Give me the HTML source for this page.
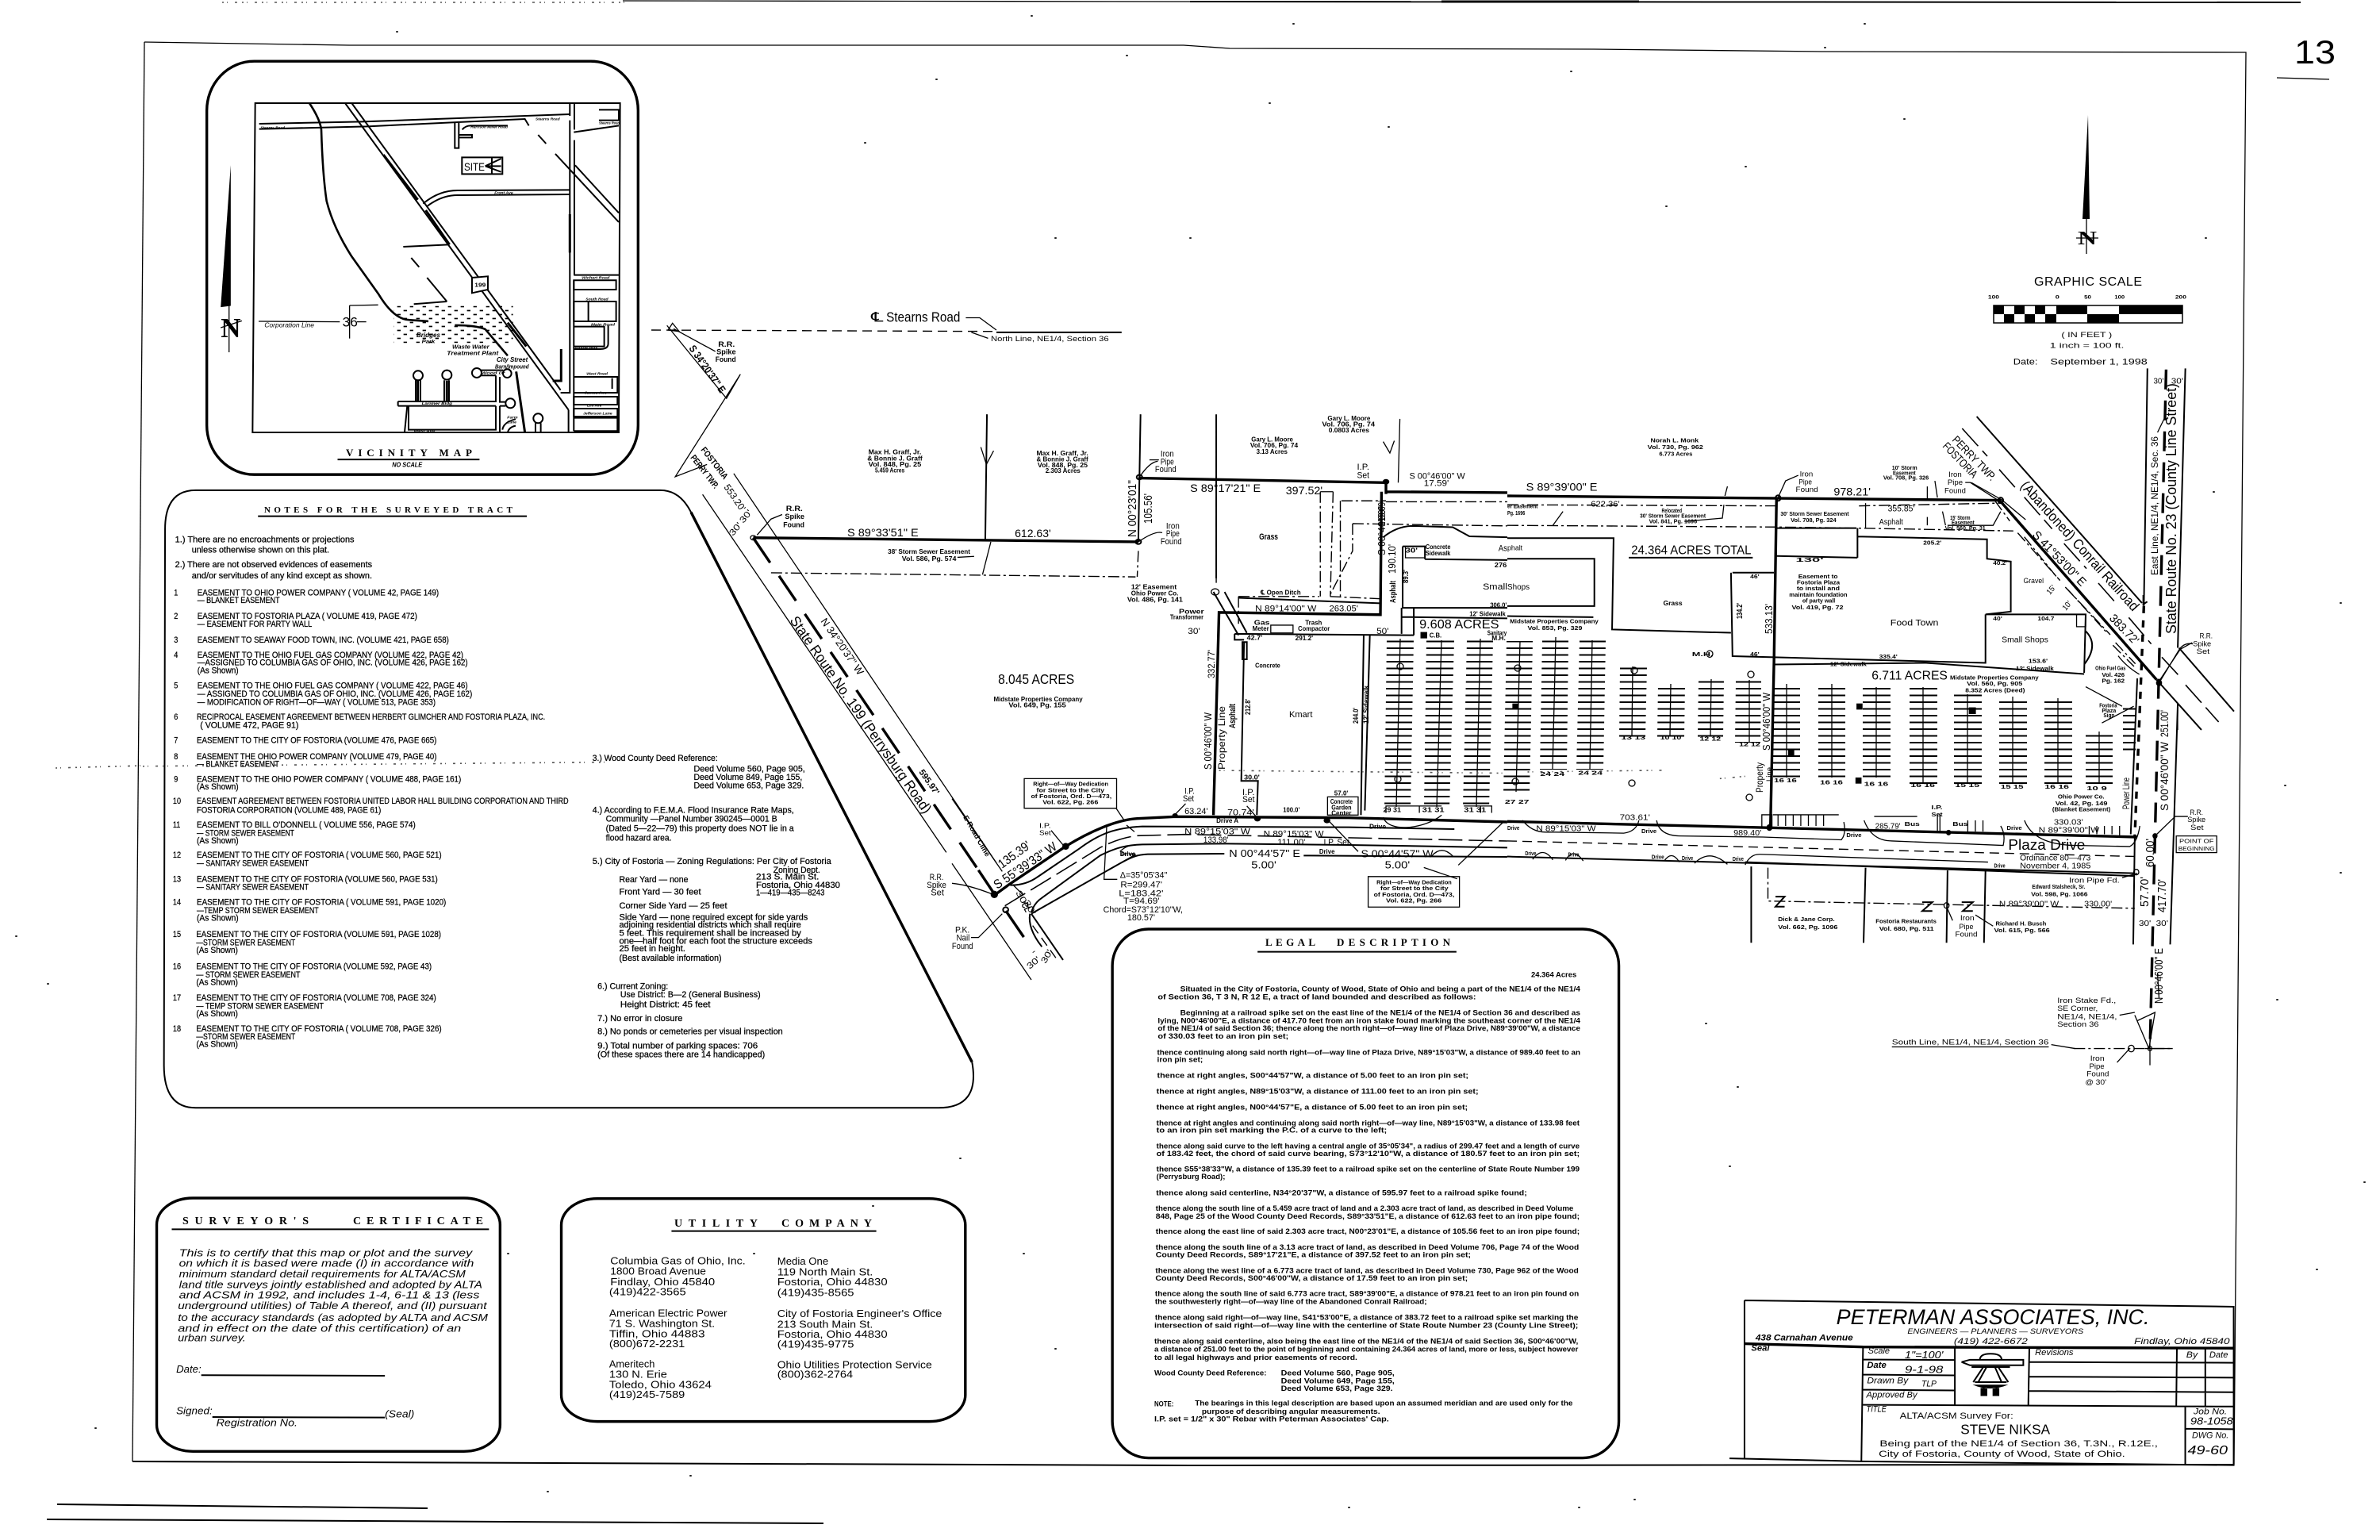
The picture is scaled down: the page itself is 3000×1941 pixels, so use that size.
<!DOCTYPE html>
<html><head><meta charset="utf-8"><title>ALTA/ACSM Survey</title>
<style>
html,body{margin:0;padding:0;background:#fff}
svg{display:block}
text{font-family:"Liberation Sans",sans-serif;fill:#000}
line,path,rect,polyline,polygon,circle,ellipse{vector-effect:non-scaling-stroke}
.l{fill:none;stroke:#000;stroke-width:1.3}
.m{fill:none;stroke:#000;stroke-width:2}
.h{fill:none;stroke:#000;stroke-width:3.4}
.dd{fill:none;stroke:#000;stroke-width:1.4;stroke-dasharray:14 4 3 4}
.ds{fill:none;stroke:#000;stroke-width:1.4;stroke-dasharray:12 7}
.ld{fill:none;stroke:#000;stroke-width:1.6;stroke-dasharray:30 8}
.b{font-weight:bold}
.i{font-style:italic}
.s{font-family:"Liberation Serif",serif;font-weight:bold}
.noise{fill:none;stroke:#555;stroke-width:1.6;stroke-dasharray:2 4 1 9 3 6}
.dots{fill:none;stroke:#222;stroke-width:2;stroke-linecap:round}
</style></head><body>
<svg xmlns="http://www.w3.org/2000/svg" width="3000" height="1941" viewBox="0 0 3000 1941">
<defs>
<pattern id="hatch" patternUnits="userSpaceOnUse" width="40" height="8.5"><rect width="40" height="8.5" fill="#fff"/><rect y="0" width="40" height="2" fill="#000"/></pattern>
<pattern id="stip" patternUnits="userSpaceOnUse" width="48" height="30"><rect x="2" y="2" width="13" height="5" fill="#000"/><rect x="26" y="17" width="13" height="5" fill="#000"/></pattern>
</defs>
<rect width="3000" height="1941" fill="#fff"/>

<!-- frame -->
<path class="l" d="M182 53L440 57L1492 57L1550 61L2009 62L2296 65L2831 66L2816 1846"/>
<path class="l" d="M182 53L167 1842"/>
<path class="m" d="M167 1842L1500 1847L2816 1846"/>
<path class="l" d="M785 1L1500 2"/><path class="m" d="M1500 2L2900 3"/>
<path style="fill:none;stroke:#000;stroke-width:3" d="M1817 2H2066"/>
<path class="noise" d="M280 3L790 3"/>
<path class="m" d="M72 1896L539 1901M59 1915L1038 1920"/>
<path class="l" d="M2870 98L2936 100"/>
<text x="2892" y="80" font-size="42" textLength="52" lengthAdjust="spacingAndGlyphs">13</text>

<!-- north arrow + scale -->
<path d="M2632 145L2625 276L2634 276Z" fill="#000"/>
<path class="l" d="M2630 276L2630 320M2617 300L2645 300"/>
<text x="2619" y="308" font-size="24" class="s" textLength="24" lengthAdjust="spacingAndGlyphs">N</text>
<text x="2564" y="360" font-size="16" textLength="136" lengthAdjust="spacing">GRAPHIC SCALE</text>
<g fill="#000">
<rect x="2513" y="385" width="238" height="22" fill="#fff" stroke="#000" stroke-width="1.5"/>
<rect x="2513" y="385" width="13" height="11"/><rect x="2539" y="385" width="13" height="11"/><rect x="2565" y="385" width="13" height="11"/><rect x="2592" y="385" width="39" height="11"/>
<rect x="2526" y="396" width="13" height="11"/><rect x="2552" y="396" width="13" height="11"/><rect x="2578" y="396" width="14" height="11"/><rect x="2631" y="396" width="40" height="11"/><rect x="2671" y="385" width="80" height="11"/>
</g>

<!-- Z1: vicinity frame + notes -->
<g transform="translate(180 60) scale(.7015 .861)">
<rect class="h" x="115" y="20" width="775" height="605" rx="85" ry="72" fill="#fff"/>
<path d="M158 172L140 380L158 378Z" fill="#000"/>
<path class="l" d="M155 378L155 446M140 410L178 400"/>
<text x="140" y="424" font-size="40" class="s" textLength="36" lengthAdjust="spacingAndGlyphs">N</text>
<path class="m" d="M350 603L605 603"/>
<text x="448" y="614" font-size="10" class="b i" textLength="54" lengthAdjust="spacingAndGlyphs">NO SCALE</text>

<path class="m" d="M40 705Q40 648 95 648L930 648Q965 648 985 680"/>
<path class="h" d="M985 680L1490 1485"/>
<path class="m" d="M1490 1485Q1505 1552 1430 1552L95 1552Q38 1552 38 1490L40 705"/>
<path class="m" d="M207 686L690 686"/>
<g font-size="13" style="stroke:#000;stroke-width:.3">
<text x="58" y="724" textLength="322" lengthAdjust="spacingAndGlyphs">1.) There are no encroachments or projections</text>
<text x="88" y="739" textLength="247" lengthAdjust="spacingAndGlyphs">unless otherwise shown on this plat.</text>
<text x="58" y="761" textLength="354" lengthAdjust="spacingAndGlyphs">2.) There are not observed evidences of easements</text>
<text x="88" y="777" textLength="324" lengthAdjust="spacingAndGlyphs">and/or servitudes of any kind except as shown.</text>
<text x="56" y="802">1</text><text x="56" y="836">2</text><text x="56" y="871">3</text><text x="56" y="893">4</text><text x="56" y="938">5</text><text x="56" y="984">6</text><text x="56" y="1018">7</text><text x="56" y="1042">8</text><text x="56" y="1075">9</text><text x="54" y="1107">10</text><text x="54" y="1142">11</text><text x="54" y="1186">12</text><text x="54" y="1221">13</text><text x="54" y="1255">14</text><text x="54" y="1302">15</text><text x="54" y="1349">16</text><text x="54" y="1395">17</text><text x="54" y="1440">18</text>
<text x="98" y="802" textLength="434" lengthAdjust="spacingAndGlyphs">EASEMENT TO OHIO POWER COMPANY ( VOLUME 42, PAGE 149)</text>
<text x="98" y="813" textLength="148" lengthAdjust="spacingAndGlyphs">— BLANKET EASEMENT</text>
<text x="98" y="836" textLength="395" lengthAdjust="spacingAndGlyphs">EASEMENT TO FOSTORIA PLAZA ( VOLUME 419, PAGE 472)</text>
<text x="98" y="848" textLength="206" lengthAdjust="spacingAndGlyphs">— EASEMENT FOR PARTY WALL</text>
<text x="98" y="871" textLength="452" lengthAdjust="spacingAndGlyphs">EASEMENT TO SEAWAY FOOD TOWN, INC. (VOLUME 421, PAGE 658)</text>
<text x="98" y="893" textLength="478" lengthAdjust="spacingAndGlyphs">EASEMENT TO THE OHIO FUEL GAS COMPANY (VOLUME 422, PAGE 42)</text>
<text x="98" y="904" textLength="486" lengthAdjust="spacingAndGlyphs">—ASSIGNED TO COLUMBIA GAS OF OHIO, INC. (VOLUME 426, PAGE 162)</text>
<text x="98" y="916" textLength="74" lengthAdjust="spacingAndGlyphs">(As Shown)</text>
<text x="98" y="938" textLength="486" lengthAdjust="spacingAndGlyphs">EASEMENT TO THE OHIO FUEL GAS COMPANY ( VOLUME 422, PAGE 46)</text>
<text x="98" y="950" textLength="494" lengthAdjust="spacingAndGlyphs">— ASSIGNED TO COLUMBIA GAS OF OHIO, INC. (VOLUME 426, PAGE 162)</text>
<text x="98" y="962" textLength="428" lengthAdjust="spacingAndGlyphs">— MODIFICATION OF RIGHT—OF—WAY ( VOLUME 513, PAGE 353)</text>
<text x="97" y="984" textLength="626" lengthAdjust="spacingAndGlyphs">RECIPROCAL EASEMENT AGREEMENT BETWEEN HERBERT GLIMCHER AND FOSTORIA PLAZA, INC.</text>
<text x="103" y="996" textLength="177" lengthAdjust="spacingAndGlyphs">( VOLUME 472, PAGE 91)</text>
<text x="97" y="1018" textLength="431" lengthAdjust="spacingAndGlyphs">EASEMENT TO THE CITY OF FOSTORIA (VOLUME 476, PAGE 665)</text>
<text x="97" y="1042" textLength="431" lengthAdjust="spacingAndGlyphs">EASEMENT THE OHIO POWER COMPANY (VOLUME 479, PAGE 40)</text>
<text x="97" y="1053" textLength="148" lengthAdjust="spacingAndGlyphs">— BLANKET EASEMENT</text>
<text x="97" y="1075" textLength="475" lengthAdjust="spacingAndGlyphs">EASEMENT TO THE OHIO POWER COMPANY ( VOLUME 488, PAGE 161)</text>
<text x="97" y="1086" textLength="75" lengthAdjust="spacingAndGlyphs">(As Shown)</text>
<text x="97" y="1107" textLength="668" lengthAdjust="spacingAndGlyphs">EASEMENT AGREEMENT BETWEEN FOSTORIA UNITED LABOR HALL BUILDING CORPORATION AND THIRD</text>
<text x="97" y="1120" textLength="331" lengthAdjust="spacingAndGlyphs">FOSTORIA CORPORATION (VOLUME 489, PAGE 61)</text>
<text x="97" y="1142" textLength="393" lengthAdjust="spacingAndGlyphs">EASEMENT TO BILL O'DONNELL ( VOLUME 556, PAGE 574)</text>
<text x="97" y="1154" textLength="175" lengthAdjust="spacingAndGlyphs">— STORM SEWER EASEMENT</text>
<text x="97" y="1165" textLength="75" lengthAdjust="spacingAndGlyphs">(As Shown)</text>
<text x="97" y="1186" textLength="440" lengthAdjust="spacingAndGlyphs">EASEMENT TO THE CITY OF FOSTORIA ( VOLUME 560, PAGE 521)</text>
<text x="97" y="1198" textLength="201" lengthAdjust="spacingAndGlyphs">— SANITARY SEWER EASEMENT</text>
<text x="97" y="1221" textLength="433" lengthAdjust="spacingAndGlyphs">EASEMENT TO THE CITY OF FOSTORIA (VOLUME 560, PAGE 531)</text>
<text x="97" y="1233" textLength="201" lengthAdjust="spacingAndGlyphs">— SANITARY SEWER EASEMENT</text>
<text x="97" y="1255" textLength="448" lengthAdjust="spacingAndGlyphs">EASEMENT TO THE CITY OF FOSTORIA ( VOLUME 591, PAGE 1020)</text>
<text x="97" y="1267" textLength="219" lengthAdjust="spacingAndGlyphs">—TEMP STORM SEWER EASEMENT</text>
<text x="97" y="1278" textLength="75" lengthAdjust="spacingAndGlyphs">(As Shown)</text>
<text x="96" y="1302" textLength="440" lengthAdjust="spacingAndGlyphs">EASEMENT TO THE CITY OF FOSTORIA (VOLUME 591, PAGE 1028)</text>
<text x="96" y="1314" textLength="178" lengthAdjust="spacingAndGlyphs">—STORM SEWER EASEMENT</text>
<text x="96" y="1325" textLength="75" lengthAdjust="spacingAndGlyphs">(As Shown)</text>
<text x="96" y="1349" textLength="423" lengthAdjust="spacingAndGlyphs">EASEMENT TO THE CITY OF FOSTORIA (VOLUME 592, PAGE 43)</text>
<text x="96" y="1361" textLength="187" lengthAdjust="spacingAndGlyphs">— STORM SEWER EASEMENT</text>
<text x="96" y="1372" textLength="75" lengthAdjust="spacingAndGlyphs">(As Shown)</text>
<text x="96" y="1395" textLength="431" lengthAdjust="spacingAndGlyphs">EASEMENT TO THE CITY OF FOSTORIA (VOLUME 708, PAGE 324)</text>
<text x="96" y="1407" textLength="229" lengthAdjust="spacingAndGlyphs">— TEMP STORM SEWER EASEMENT</text>
<text x="96" y="1418" textLength="75" lengthAdjust="spacingAndGlyphs">(As Shown)</text>
<text x="96" y="1440" textLength="441" lengthAdjust="spacingAndGlyphs">EASEMENT TO THE CITY OF FOSTORIA ( VOLUME 708, PAGE 326)</text>
<text x="96" y="1452" textLength="178" lengthAdjust="spacingAndGlyphs">—STORM SEWER EASEMENT</text>
<text x="96" y="1463" textLength="75" lengthAdjust="spacingAndGlyphs">(As Shown)</text>

<text x="808" y="1044" textLength="225" lengthAdjust="spacingAndGlyphs">3.) Wood County Deed Reference:</text>
<text x="990" y="1060" textLength="200" lengthAdjust="spacingAndGlyphs">Deed Volume 560, Page 905,</text>
<text x="990" y="1072" textLength="195" lengthAdjust="spacingAndGlyphs">Deed Volume 849, Page 155,</text>
<text x="990" y="1084" textLength="198" lengthAdjust="spacingAndGlyphs">Deed Volume 653, Page 329.</text>
<text x="808" y="1120" textLength="362" lengthAdjust="spacingAndGlyphs">4.) According to F.E.M.A. Flood Insurance Rate Maps,</text>
<text x="832" y="1133" textLength="308" lengthAdjust="spacingAndGlyphs">Community —Panel Number  390245—0001 B</text>
<text x="832" y="1147" textLength="338" lengthAdjust="spacingAndGlyphs">(Dated 5—22—79) this property does NOT lie in a</text>
<text x="832" y="1161" textLength="118" lengthAdjust="spacingAndGlyphs">flood hazard area.</text>
<text x="808" y="1195" textLength="429" lengthAdjust="spacingAndGlyphs">5.) City of Fostoria — Zoning Regulations: Per City of Fostoria</text>
<text x="1133" y="1208" textLength="84" lengthAdjust="spacingAndGlyphs">Zoning Dept.</text>
<text x="1102" y="1218" textLength="113" lengthAdjust="spacingAndGlyphs">213 S. Main St.</text>
<text x="856" y="1222" textLength="124" lengthAdjust="spacingAndGlyphs">Rear Yard — none</text>
<text x="1102" y="1230" textLength="151" lengthAdjust="spacingAndGlyphs">Fostoria, Ohio  44830</text>
<text x="856" y="1240" textLength="147" lengthAdjust="spacingAndGlyphs">Front Yard — 30 feet</text>
<text x="1102" y="1241" textLength="123" lengthAdjust="spacingAndGlyphs">1—419—435—8243</text>
<text x="856" y="1260" textLength="194" lengthAdjust="spacingAndGlyphs">Corner Side Yard — 25 feet</text>
<text x="856" y="1277" textLength="339" lengthAdjust="spacingAndGlyphs">Side Yard — none required except for side yards</text>
<text x="856" y="1288" textLength="327" lengthAdjust="spacingAndGlyphs">adjoining residential districts which shall require</text>
<text x="856" y="1300" textLength="327" lengthAdjust="spacingAndGlyphs">5 feet.  This requirement shall be increased by</text>
<text x="856" y="1312" textLength="347" lengthAdjust="spacingAndGlyphs">one—half foot for each foot the structure exceeds</text>
<text x="856" y="1323" textLength="119" lengthAdjust="spacingAndGlyphs">25 feet in height.</text>
<text x="856" y="1337" textLength="184" lengthAdjust="spacingAndGlyphs">(Best available information)</text>
<text x="817" y="1378" textLength="127" lengthAdjust="spacingAndGlyphs">6.) Current Zoning:</text>
<text x="858" y="1390" textLength="252" lengthAdjust="spacingAndGlyphs">Use District: B—2 (General Business)</text>
<text x="858" y="1405" textLength="162" lengthAdjust="spacingAndGlyphs">Height District: 45 feet</text>
<text x="817" y="1425" textLength="153" lengthAdjust="spacingAndGlyphs">7.) No error in closure</text>
<text x="817" y="1444" textLength="333" lengthAdjust="spacingAndGlyphs">8.) No ponds or cemeteries per visual inspection</text>
<text x="817" y="1465" textLength="288" lengthAdjust="spacingAndGlyphs">9.) Total number of parking spaces:  706</text>
<text x="817" y="1478" textLength="301" lengthAdjust="spacingAndGlyphs">(Of these spaces there are 14 handicapped)</text>
</g>
<path class="noise" d="M0 1052L830 1046"/>
</g>

<!-- vicinity map (crop coords, 3x) -->
<g transform="translate(300 120) scale(.3333)">
<path class="m" d="M65 30L1445 30L1440 1275L55 1275Z"/>
<path class="m" d="M80 108L470 100L1255 72M80 128L490 118L1085 90L1100 115"/>
<path class="m" d="M1255 30V78M1272 30V130M1272 170V680M1270 700V1270M1255 95V1125L1220 1125M1250 1190V1275"/>
<path class="m" d="M405 30L1250 1190M430 30L1220 1115"/>
<path style="fill:none;stroke:#000;stroke-width:3" d="M550 225L680 395M710 435L800 565M1020 860L1090 950M1255 450V595"/>
<path style="fill:none;stroke:#000;stroke-width:2.6" d="M270 30Q310 90 315 130Q320 300 335 400Q360 500 430 610L530 750Q590 850 650 850L720 855M820 870Q900 870 935 885L1020 985"/>
<path class="m" d="M700 410Q760 360 830 360L1255 358M715 420Q770 378 830 378L1255 375"/>
<path class="m" d="M820 105V200H835V105M835 150H885V160H835M848 130Q860 115 880 115L1020 115M1135 150L1165 183"/>
<path class="m" d="M1200 222L1440 480M1275 265L1440 445M655 615L685 650M715 690L790 780M625 573L795 565M665 790L790 780"/>
<rect class="m" x="847" y="235" width="153" height="63" fill="#fff"/>
<text x="855" y="285" font-size="42" textLength="78" lengthAdjust="spacingAndGlyphs">SITE</text>
<path class="m" d="M935 268L995 240M935 268L995 290M960 235V298M935 268H995"/>
<path class="l" d="M78 855L385 857M450 857H485M422 795V920M422 795L530 793"/>
<text x="100" y="878" font-size="24" class="i" textLength="188" lengthAdjust="spacingAndGlyphs">Corporation Line</text>
<text x="395" y="875" font-size="50" textLength="58" lengthAdjust="spacingAndGlyphs">36</text>
<rect x="590" y="797" width="450" height="140" fill="url(#stip)"/>
<path d="M885 690L945 685L945 735L885 748Z" fill="#fff" stroke="#000" stroke-width="2"/>
<text x="895" y="725" font-size="22" class="b" textLength="42" lengthAdjust="spacingAndGlyphs">199</text>
<text x="675" y="915" font-size="24" class="b i" textLength="90" lengthAdjust="spacingAndGlyphs">Bridges</text>
<text x="695" y="938" font-size="20" class="b i" textLength="50" lengthAdjust="spacingAndGlyphs">Park</text>
<text x="810" y="958" font-size="22" class="b i" textLength="140" lengthAdjust="spacingAndGlyphs">Waste Water</text>
<text x="790" y="982" font-size="22" class="b i" textLength="195" lengthAdjust="spacingAndGlyphs">Treatment Plant</text>
<text x="978" y="1008" font-size="24" class="b i" textLength="118" lengthAdjust="spacingAndGlyphs">City Street</text>
<text x="972" y="1033" font-size="22" class="b i" textLength="128" lengthAdjust="spacingAndGlyphs">Barn/Impound</text>
<circle class="m" cx="681" cy="1060" r="18"/><circle class="m" cx="790" cy="1058" r="18"/><circle class="m" cx="903" cy="1050" r="18"/><circle class="m" cx="1018" cy="1052" r="16"/><circle class="m" cx="1030" cy="1165" r="18"/><circle class="m" cx="1135" cy="1222" r="18"/>
<path class="m" d="M672 1078V1155M690 1078V1155M780 1078V1155M798 1078V1155M605 1158H975V1060M605 1175H975M605 1158V1175M640 1175L630 1275M645 1175V1265H975V1175M990 1065V1160H1012M990 1175V1275M990 1175H1012M918 1040H1003M918 1060H975M1125 1240V1275M1145 1240V1275M1000 1265Q1005 1235 1050 1225M1020 1275Q1025 1255 1050 1250"/>
<path style="fill:none;stroke:#000;stroke-width:3" d="M680 1080V1155M790 1080V1155M1052 1045L1085 1275M1222 960V1080H1190"/>
<path class="m" d="M1270 680H1440M1270 700H1430V735H1270ZM1270 780H1430V855H1270ZM1325 780V855M1270 875H1385V950H1270M1400 870V940Q1400 960 1370 960H1270M1270 1065H1435V1125H1270M1270 1140H1435V1170H1270ZM1270 1185H1435V1215H1270ZM1270 1220H1435V1270H1270M1365 55H1440V95H1365M1270 140L1440 115M1415 1070V1110"/>
<g font-size="15" class="b i">
<text x="85" y="127" textLength="92" lengthAdjust="spacingAndGlyphs">Stearns Road</text>
<text x="1125" y="95" textLength="92" lengthAdjust="spacingAndGlyphs">Stearns Road</text>
<text x="1365" y="110" textLength="78" lengthAdjust="spacingAndGlyphs">Stearns Road</text>
<text x="880" y="124" textLength="140" lengthAdjust="spacingAndGlyphs">Harrison Miller Road</text>
<text x="970" y="373" textLength="70" lengthAdjust="spacingAndGlyphs">Front Ave</text>
<text x="1300" y="694" textLength="105" lengthAdjust="spacingAndGlyphs">Wichert Road</text>
<text x="1315" y="775" textLength="85" lengthAdjust="spacingAndGlyphs">South Road</text>
<text x="1335" y="872" textLength="90" lengthAdjust="spacingAndGlyphs">Main Road</text>
<text x="1275" y="958" textLength="85" lengthAdjust="spacingAndGlyphs">Payne Way</text>
<text x="1318" y="1058" textLength="80" lengthAdjust="spacingAndGlyphs">West Road</text>
<text x="1310" y="1130" textLength="85" lengthAdjust="spacingAndGlyphs">James Ave</text>
<text x="1320" y="1177" textLength="55" lengthAdjust="spacingAndGlyphs">Elm Ave</text>
<text x="1305" y="1208" textLength="110" lengthAdjust="spacingAndGlyphs">Jefferson Lane</text>
<text x="920" y="1055" textLength="90" lengthAdjust="spacingAndGlyphs">Wood Dr</text>
<text x="695" y="1170" textLength="115" lengthAdjust="spacingAndGlyphs">Larimer Bldg</text>
<text x="1018" y="1223" textLength="40" lengthAdjust="spacingAndGlyphs">Farm</text>
<text x="1018" y="1240" textLength="35" lengthAdjust="spacingAndGlyphs">Lane</text>
<text x="665" y="1274" textLength="80" lengthAdjust="spacingAndGlyphs">West Ave</text>
</g>
</g>

<!-- parking rows (real coords) -->
<g>
<polygon points="1748,805 1782,805 1778,1019 1745,1019" fill="url(#hatch)"/>
<polygon points="1798,807 1833,807 1827,1019 1795,1019" fill="url(#hatch)"/>
<polygon points="1849,807 1882,807 1877,1019 1844,1019" fill="url(#hatch)"/>
<polygon points="1899,808 1932,808 1928,1000 1895,1000" fill="url(#hatch)"/>
<polygon points="1944,807 1977,807 1975,970 1941,970" fill="url(#hatch)"/>
<polygon points="1991,807 2024,807 2021,970 1987,970" fill="url(#hatch)"/>
<polygon points="2042,840 2076,840 2074,929 2041,929" fill="url(#hatch)"/>
<polygon points="2090,862 2124,862 2123,929 2089,929" fill="url(#hatch)"/>
<polygon points="2141,856 2173,856 2172,929 2140,929" fill="url(#hatch)"/>
<polygon points="2188,857 2220,857 2219,936 2187,936" fill="url(#hatch)"/>
<rect x="2235" y="862" width="34" height="118" fill="url(#hatch)"/>
<rect x="2292" y="862" width="34" height="118" fill="url(#hatch)"/>
<rect x="2348" y="866" width="35" height="114" fill="url(#hatch)"/>
<rect x="2407" y="866" width="35" height="122" fill="url(#hatch)"/>
<rect x="2463" y="875" width="35" height="113" fill="url(#hatch)"/>
<rect x="2520" y="878" width="35" height="110" fill="url(#hatch)"/>
<rect x="2577" y="880" width="35" height="108" fill="url(#hatch)"/>
<rect x="2629" y="922" width="34" height="66" fill="url(#hatch)"/>
<rect x="2676" y="890" width="16" height="62" fill="url(#hatch)"/>
<path class="l" d="M1765 805L1760 1017M1817 807L1811 1017M1866 805L1861 1017M1916 808L1911 998M1961 803L1957 970M2007 807L2004 970M2058 840L2057 927M2106 862L2105 927M2157 856L2156 927M2205 857V936M2252 862V980M2309 862V980M2365 866V980M2424 866V988M2480 875V988M2537 878V988M2594 880V988M2646 922V988"/>
<circle class="l" cx="1765" cy="840" r="4" fill="#fff"/><circle class="l" cx="1762" cy="982" r="4" fill="#fff"/><circle class="l" cx="1913" cy="842" r="4" fill="#fff"/><circle class="l" cx="1910" cy="985" r="4" fill="#fff"/><circle class="l" cx="2060" cy="845" r="4" fill="#fff"/><circle class="l" cx="2207" cy="850" r="4" fill="#fff"/><circle class="l" cx="2057" cy="987" r="4" fill="#fff"/><circle class="l" cx="2205" cy="1005" r="4" fill="#fff"/>
</g>

<!-- Z2: centre drawing -->
<g transform="translate(800 350) scale(.7015 .574)">
<path class="ds" d="M30 115L650 118"/><path class="m" d="M650 120L875 120"/>
<path class="l" d="M595 88L620 88L650 115M605 120L635 133M70 112L145 162M58 105L165 265L190 212L73 437L130 410"/>
<path class="l" d="M60 115L68 100L80 118Z"/>
<text x="425" y="97" font-size="30" textLength="22" lengthAdjust="spacingAndGlyphs">℄</text>
<text x="452" y="97" font-size="30" textLength="133" lengthAdjust="spacingAndGlyphs">Stearns Road</text>
<text x="640" y="139" font-size="16" textLength="212" lengthAdjust="spacingAndGlyphs">North Line, NE1/4, Section 36</text>
<g font-size="16" class="b">
<text x="150" y="152" textLength="30" lengthAdjust="spacingAndGlyphs">R.R.</text><text x="147" y="168" textLength="35" lengthAdjust="spacingAndGlyphs">Spike</text><text x="145" y="185" textLength="37" lengthAdjust="spacingAndGlyphs">Found</text>
<text x="272" y="512" textLength="30" lengthAdjust="spacingAndGlyphs">R.R.</text><text x="270" y="530" textLength="35" lengthAdjust="spacingAndGlyphs">Spike</text><text x="267" y="548" textLength="38" lengthAdjust="spacingAndGlyphs">Found</text>
</g>
<path class="l" d="M178 430L650 1285M122 476L560 1262"/>
<path class="h" stroke-dasharray="38 20" d="M213 571L620 1305"/>
<path class="h" d="M213 571L905 580"/>
<path class="m" d="M633 300L630 575M909 300L905 580"/>
<path class="h" d="M905 440L1350 450M1350 450L1350 475M1350 470L1568 472"/>
<path class="dd" d="M245 648L900 657M905 600L903 657"/>
<path class="l" d="M640 580L625 652M580 614L610 612"/>
<path class="l" d="M622 372L632 410L645 380"/>
<path class="l" d="M1345 360L1357 385L1365 358M1375 310L1372 450"/>
<circle class="l" cx="213" cy="571" r="5"/><circle class="m" cx="905" cy="580" r="5"/><circle class="m" cx="907" cy="438" r="5"/>
<circle cx="1350" cy="448" r="6" fill="#000"/>
<path class="l" d="M265 520L245 530L220 565M925 400L942 400M907 438Q925 405 940 403M905 580Q935 555 948 560"/>
<g font-size="20">
<text x="382" y="568" font-size="24" textLength="128" lengthAdjust="spacingAndGlyphs">S 89°33'51" E</text>
<text x="683" y="570" font-size="24" textLength="65" lengthAdjust="spacingAndGlyphs">612.63'</text>
<text x="998" y="470" font-size="24" textLength="127" lengthAdjust="spacingAndGlyphs">S 89°17'21" E</text>
<text x="1170" y="476" font-size="24" textLength="66" lengthAdjust="spacingAndGlyphs">397.52'</text>
<text x="945" y="393" textLength="24" lengthAdjust="spacingAndGlyphs">Iron</text><text x="945" y="410" textLength="24" lengthAdjust="spacingAndGlyphs">Pipe</text><text x="935" y="427" textLength="38" lengthAdjust="spacingAndGlyphs">Found</text>
<text x="955" y="551" textLength="24" lengthAdjust="spacingAndGlyphs">Iron</text><text x="955" y="568" textLength="24" lengthAdjust="spacingAndGlyphs">Pipe</text><text x="945" y="585" textLength="38" lengthAdjust="spacingAndGlyphs">Found</text>
<text x="1392" y="442" textLength="100" lengthAdjust="spacingAndGlyphs">S 00°46'00" W</text>
<text x="1418" y="457" textLength="45" lengthAdjust="spacingAndGlyphs">17.59'</text>
<text x="1298" y="422" textLength="22" lengthAdjust="spacingAndGlyphs">I.P.</text><text x="1298" y="440" textLength="22" lengthAdjust="spacingAndGlyphs">Set</text>
<text x="1115" y="733" textLength="110" lengthAdjust="spacingAndGlyphs">N 89°14'00" W</text>
<text x="1248" y="733" textLength="52" lengthAdjust="spacingAndGlyphs">263.05'</text>
<text x="994" y="782" textLength="22" lengthAdjust="spacingAndGlyphs">30'</text>
<text x="1333" y="782" textLength="22" lengthAdjust="spacingAndGlyphs">50'</text>
<text x="1176" y="965" textLength="42" lengthAdjust="spacingAndGlyphs">Kmart</text>
<text x="1122" y="575" class="b" textLength="34" lengthAdjust="spacingAndGlyphs">Grass</text>
<text x="1410" y="770" font-size="27" textLength="143" lengthAdjust="spacingAndGlyphs">9.608  ACRES</text>
<text x="653" y="892" font-size="30" textLength="137" lengthAdjust="spacingAndGlyphs">8.045  ACRES</text>
<text x="645" y="930" font-size="14" class="b" textLength="160" lengthAdjust="spacingAndGlyphs">Midstate Properties Company</text>
<text x="672" y="943" font-size="14" class="b" textLength="103" lengthAdjust="spacingAndGlyphs">Vol. 649, Pg. 155</text>
<text x="1524" y="685" textLength="44" lengthAdjust="spacingAndGlyphs">Small</text>
<text x="1552" y="600" textLength="16" lengthAdjust="spacingAndGlyphs">As</text>
<text x="1545" y="636" font-size="15" class="b" textLength="22" lengthAdjust="spacingAndGlyphs">276</text>
</g>
<g font-size="14" class="b">
<text x="455" y="606" textLength="148" lengthAdjust="spacingAndGlyphs">38' Storm Sewer Easement</text>
<text x="480" y="622" textLength="98" lengthAdjust="spacingAndGlyphs">Vol. 586, Pg. 574</text>
<text x="420" y="388" textLength="95" lengthAdjust="spacingAndGlyphs">Max H. Graff, Jr.</text>
<text x="418" y="402" textLength="99" lengthAdjust="spacingAndGlyphs">&amp; Bonnie J. Graff</text>
<text x="420" y="415" textLength="95" lengthAdjust="spacingAndGlyphs">Vol. 848, Pg. 25</text>
<text x="432" y="428" textLength="53" lengthAdjust="spacingAndGlyphs">5.459 Acres</text>
<text x="722" y="390" textLength="93" lengthAdjust="spacingAndGlyphs">Max H. Graff, Jr.</text>
<text x="722" y="403" textLength="93" lengthAdjust="spacingAndGlyphs">&amp; Bonnie J. Graff</text>
<text x="724" y="416" textLength="90" lengthAdjust="spacingAndGlyphs">Vol. 848, Pg. 25</text>
<text x="738" y="429" textLength="63" lengthAdjust="spacingAndGlyphs">2.303 Acres</text>
<text x="1108" y="360" textLength="75" lengthAdjust="spacingAndGlyphs">Gary L. Moore</text>
<text x="1106" y="373" textLength="86" lengthAdjust="spacingAndGlyphs">Vol. 706, Pg. 74</text>
<text x="1117" y="387" textLength="56" lengthAdjust="spacingAndGlyphs">3.13 Acres</text>
<text x="1245" y="314" textLength="77" lengthAdjust="spacingAndGlyphs">Gary L. Moore</text>
<text x="1235" y="327" textLength="95" lengthAdjust="spacingAndGlyphs">Vol. 706, Pg. 74</text>
<text x="1247" y="340" textLength="73" lengthAdjust="spacingAndGlyphs">0.0803 Acres</text>
<text x="892" y="684" textLength="82" lengthAdjust="spacingAndGlyphs">12' Easement</text>
<text x="892" y="698" textLength="85" lengthAdjust="spacingAndGlyphs">Ohio Power Co.</text>
<text x="885" y="712" textLength="100" lengthAdjust="spacingAndGlyphs">Vol. 486, Pg. 141</text>
<text x="978" y="738" textLength="45" lengthAdjust="spacingAndGlyphs">Power</text>
<text x="962" y="750" textLength="60" lengthAdjust="spacingAndGlyphs">Transformer</text>
<text x="1125" y="696" textLength="72" lengthAdjust="spacingAndGlyphs">℄ Open Ditch</text>
<text x="1113" y="762" textLength="28" lengthAdjust="spacingAndGlyphs">Gas</text><text x="1110" y="775" textLength="30" lengthAdjust="spacingAndGlyphs">Meter</text>
<text x="1205" y="762" textLength="30" lengthAdjust="spacingAndGlyphs">Trash</text><text x="1192" y="775" textLength="57" lengthAdjust="spacingAndGlyphs">Compactor</text>
<text x="1187" y="796" textLength="32" lengthAdjust="spacingAndGlyphs">291.2'</text>
<text x="1100" y="795" textLength="28" lengthAdjust="spacingAndGlyphs">42.7'</text>
<text x="1115" y="856" textLength="45" lengthAdjust="spacingAndGlyphs">Concrete</text>
<text x="1421" y="596" textLength="45" lengthAdjust="spacingAndGlyphs">Concrete</text>
<text x="1421" y="610" textLength="45" lengthAdjust="spacingAndGlyphs">Sidewalk</text>
<text x="1385" y="604" textLength="22" lengthAdjust="spacingAndGlyphs">30'</text>
<text x="1537" y="724" textLength="30" lengthAdjust="spacingAndGlyphs">306.0'</text>
<text x="1500" y="743" textLength="65" lengthAdjust="spacingAndGlyphs">12' Sidewalk</text>
<text x="1428" y="790" textLength="22" lengthAdjust="spacingAndGlyphs">C.B.</text>
<text x="1532" y="785" textLength="35" lengthAdjust="spacingAndGlyphs">Sanitary</text>
<text x="1540" y="796" textLength="25" lengthAdjust="spacingAndGlyphs">M.H.</text>
<text x="1095" y="1102" textLength="28" lengthAdjust="spacingAndGlyphs">30.0'</text>
<text x="1165" y="1173" textLength="30" lengthAdjust="spacingAndGlyphs">100.0'</text>
<text x="1257" y="1137" textLength="25" lengthAdjust="spacingAndGlyphs">57.0'</text>
<text x="1250" y="1155" textLength="40" lengthAdjust="spacingAndGlyphs">Concrete</text>
<text x="1252" y="1168" textLength="36" lengthAdjust="spacingAndGlyphs">Garden</text>
<text x="1252" y="1180" textLength="36" lengthAdjust="spacingAndGlyphs">Center</text>
<text x="1045" y="1197" textLength="40" lengthAdjust="spacingAndGlyphs">Drive A</text>
<text x="1320" y="1210" textLength="30" lengthAdjust="spacingAndGlyphs">Drive</text>
<text x="1230" y="1265" textLength="28" lengthAdjust="spacingAndGlyphs">Drive</text>
<text x="872" y="1270" textLength="28" lengthAdjust="spacingAndGlyphs">Drive</text>
<text x="1345" y="1173" textLength="32" lengthAdjust="spacingAndGlyphs">29 31</text><text x="1415" y="1173" textLength="40" lengthAdjust="spacingAndGlyphs">31 31</text><text x="1490" y="1173" textLength="40" lengthAdjust="spacingAndGlyphs">31 31</text>
</g>
<g font-size="20">
<text x="988" y="1133" textLength="18" lengthAdjust="spacingAndGlyphs">I.P.</text><text x="985" y="1150" textLength="20" lengthAdjust="spacingAndGlyphs">Set</text>
<text x="988" y="1178" textLength="42" lengthAdjust="spacingAndGlyphs">63.24'</text>
<text x="1092" y="1136" textLength="22" lengthAdjust="spacingAndGlyphs">I.P.</text><text x="1092" y="1152" textLength="22" lengthAdjust="spacingAndGlyphs">Set</text>
<text x="1065" y="1180" textLength="48" lengthAdjust="spacingAndGlyphs">70.74'</text>
<text x="988" y="1222" textLength="118" lengthAdjust="spacingAndGlyphs">N 89°15'03" W</text>
<text x="1130" y="1227" textLength="108" lengthAdjust="spacingAndGlyphs">N 89°15'03" W</text>
<text x="1022" y="1240" textLength="45" lengthAdjust="spacingAndGlyphs">133.98'</text>
<text x="1155" y="1246" textLength="50" lengthAdjust="spacingAndGlyphs">111.00'</text>
<text x="1238" y="1246" textLength="46" lengthAdjust="spacingAndGlyphs">I.P. Set</text>
<text x="1068" y="1272" font-size="23" textLength="128" lengthAdjust="spacingAndGlyphs">N 00°44'57" E</text>
<text x="1108" y="1297" font-size="23" textLength="45" lengthAdjust="spacingAndGlyphs">5.00'</text>
<text x="1305" y="1273" font-size="23" textLength="130" lengthAdjust="spacingAndGlyphs">S 00°44'57" W</text>
<text x="1348" y="1297" font-size="23" textLength="45" lengthAdjust="spacingAndGlyphs">5.00'</text>
<text x="872" y="1318" textLength="85" lengthAdjust="spacingAndGlyphs">Δ=35°05'34"</text>
<text x="873" y="1339" textLength="75" lengthAdjust="spacingAndGlyphs">R=299.47'</text>
<text x="870" y="1358" textLength="80" lengthAdjust="spacingAndGlyphs">L=183.42'</text>
<text x="878" y="1375" textLength="65" lengthAdjust="spacingAndGlyphs">T=94.69'</text>
<text x="842" y="1394" textLength="143" lengthAdjust="spacingAndGlyphs">Chord=S73°12'10"W,</text>
<text x="885" y="1411" textLength="50" lengthAdjust="spacingAndGlyphs">180.57'</text>
<text x="530" y="1322" textLength="25" lengthAdjust="spacingAndGlyphs">R.R.</text><text x="525" y="1340" textLength="35" lengthAdjust="spacingAndGlyphs">Spike</text><text x="532" y="1356" textLength="24" lengthAdjust="spacingAndGlyphs">Set</text>
<text x="576" y="1438" textLength="26" lengthAdjust="spacingAndGlyphs">P.K.</text><text x="578" y="1456" textLength="24" lengthAdjust="spacingAndGlyphs">Nail</text><text x="570" y="1474" textLength="38" lengthAdjust="spacingAndGlyphs">Found</text>
</g>
<path class="l" d="M970 1180L990 1155M1120 1188L1100 1160M1245 1190L1300 1260M1480 1290L1562 1194M1418 1295L1478 1320"/>
<circle cx="971" cy="1181" r="5" fill="#000"/><circle cx="1119" cy="1188" r="6" fill="#000"/><circle cx="1244" cy="1192" r="6" fill="#000"/>
<rect class="l" x="700" y="1100" width="166" height="65" fill="#fff"/>
<g font-size="13" class="b">
<text x="716" y="1116" textLength="135" lengthAdjust="spacingAndGlyphs">Right—of—Way Dedication</text>
<text x="722" y="1130" textLength="122" lengthAdjust="spacingAndGlyphs">for Street to the City</text>
<text x="712" y="1143" textLength="145" lengthAdjust="spacingAndGlyphs">of Fostoria, Ord. D—473,</text>
<text x="733" y="1156" textLength="100" lengthAdjust="spacingAndGlyphs">Vol. 622, Pg. 266</text>
</g>
<rect class="l" x="1318" y="1315" width="164" height="67" fill="#fff"/>
<g font-size="13" class="b">
<text x="1333" y="1332" textLength="135" lengthAdjust="spacingAndGlyphs">Right—of—Way Dedication</text>
<text x="1340" y="1345" textLength="122" lengthAdjust="spacingAndGlyphs">for Street to the City</text>
<text x="1328" y="1359" textLength="145" lengthAdjust="spacingAndGlyphs">of Fostoria, Ord. D—473,</text>
<text x="1350" y="1372" textLength="100" lengthAdjust="spacingAndGlyphs">Vol. 622, Pg. 266</text>
</g>
<!-- Kmart -->
<path class="h" d="M1342 470L1340 740L1050 735L1040 1180"/>
<path class="m" d="M1085 703L1340 715M1078 782L1400 785M1310 785L1305 1180M1321 785L1312 1170M1095 800L1090 1105L1120 1105L1118 1180M1078 782L1078 795L1095 795"/>
<path class="m" d="M1045 660L1045 300M1040 690L1085 785M1060 690L1100 780"/>
<circle class="l" cx="1043" cy="690" r="7"/>
<path class="dd" d="M1085 700L1230 700M1085 700L1085 760M1045 305L1045 670M1232 470L1232 700M1255 470L1250 700M1268 490L1268 700M1290 540L1290 600L1248 700L1340 705M1270 490L1350 490M1350 492L1568 492M1290 540L1568 545"/>
<path class="l" d="M1232 470L1255 470"/>
<rect class="m" x="1092" y="800" width="8" height="38"/><rect class="l" x="1143" y="763" width="40" height="17"/>
<rect class="l" x="1245" y="1140" width="55" height="40"/>
<path class="m" d="M1380 590L1380 725L1568 725M1380 590L1420 590L1420 618M1420 618L1568 620"/>
<path class="m" d="M1345 570Q1370 545 1400 545L1470 548L1500 568L1568 570M1378 725V782M1400 725V785M1378 745L1568 748"/>
<rect class="l" x="1385" y="590" width="35" height="25"/>
<rect x="1412" y="778" width="12" height="14" fill="#000"/>
<path class="l" d="M1345 1185C1355 1220 1420 1210 1450 1180M1350 1175L1350 1160L1450 1160M1410 1160V1175M1490 1160H1540V1175M1520 1160V1175"/>
<path class="l" d="M1432 1270Q1450 1245 1470 1270"/>
<path class="noise" d="M1050 1082L1568 1088"/>
</g>

<!-- road curve, crop coords 3x -->
<g transform="translate(1200 1000) scale(.3333)">
<path class="h" d="M160 385L215 345L430 200C520 145 620 100 700 95L845 88L1500 92L2100 108"/>
<path class="m" d="M220 347Q280 348 325 315L480 210C560 150 620 130 720 125L1500 128L1900 135"/>
<path class="ld" d="M200 425L340 340L560 205C620 175 660 165 700 160L880 155L2100 180"/>
<path class="m" d="M300 450Q310 415 340 395L560 235C620 205 660 195 720 193L1040 190L1500 195L2100 205"/>
<path class="m" d="M300 455L640 262C680 240 700 232 740 230L1030 228M1330 235L2100 240"/>
<path class="m" d="M295 455Q285 510 340 580M300 455L420 630"/>
<path class="ds" d="M305 500L395 625"/>
<path class="l" d="M0 20L190 295M0 265L300 705"/>
<path class="h" stroke-dasharray="40 22" d="M100 290L160 380L310 600"/>
<path class="l" d="M190 455L100 545L72 545M0 340Q60 345 150 380M585 125L575 325H625M620 55L650 100M660 120L690 145M375 140L420 195M230 345L270 385"/>
<circle cx="160" cy="382" r="14" fill="#000"/><circle cx="430" cy="200" r="13" fill="#000"/>
<circle class="m" cx="203" cy="440" r="10" fill="#fff"/>
<text x="330" y="130" font-size="26" textLength="44" lengthAdjust="spacingAndGlyphs">I.P.</text>
<text x="330" y="158" font-size="26" textLength="44" lengthAdjust="spacingAndGlyphs">Set</text>
<path class="l" d="M635 220Q660 195 695 195M635 265Q660 250 695 230"/>
<text x="640" y="235" font-size="18" class="b" textLength="50" lengthAdjust="spacingAndGlyphs">Drive</text>
</g>
<text transform="translate(1263 1095) rotate(-36)" font-size="16" textLength="46" lengthAdjust="spacingAndGlyphs">135.39'</text>
<text transform="translate(1257 1121) rotate(-34)" font-size="16" textLength="92" lengthAdjust="spacingAndGlyphs">S 55°39'33" W</text>

<!-- Z3: east side -->
<g transform="translate(1900 350) scale(.6378 .7015)">
<path class="h" d="M0 392L975 400"/>
<path class="dd" d="M0 408L535 410M0 445L535 448L690 450L1000 455M695 410L975 405"/>
<path class="m" d="M1265 163L1258 590M1340 163L1325 665"/>
<path class="h" stroke-dasharray="9 9" d="M1258 590L1240 1005"/>
<path class="m" d="M1240 1005L1237 1198M1325 765L1310 1198"/>
<path class="h" stroke-dasharray="25 14" d="M1302 165L1270 1385"/>
<path class="m" d="M1245 720L1232 1000"/>
<circle class="m" cx="975" cy="400" r="5"/><circle class="m" cx="535" cy="396" r="5"/>
<circle cx="1288" cy="728" r="6" fill="#000"/><circle cx="1280" cy="1003" r="5" fill="#000"/><circle cx="518" cy="988" r="6" fill="#000"/><circle cx="872" cy="997" r="5" fill="#000"/><circle class="l" cx="868" cy="1128" r="5"/><circle class="l" cx="1233" cy="1385" r="6"/><circle class="l" cx="1270" cy="1385" r="4"/><circle class="l" cx="1243" cy="1068" r="5"/>
<path class="l" d="M575 355L550 365L535 395M970 400L915 368L905 368M1288 728L1328 668Q1338 655 1355 658M1280 1003L1320 968L1345 968M1215 1078L1245 1070M1288 1295L1285 1250M1240 1320L1210 1325M1240 1325L1268 1385M1268 1385L1280 1320L1245 1335M1075 1378L1122 1385M1205 1410L1230 1385M925 1145L960 1165M880 1155L868 1130"/>
<path class="l" d="M1300 250L1285 278M435 375L430 392M830 375V398M845 365L850 395M110 420L90 445M428 408L425 432L350 438M708 405L708 450M830 430V445M860 420L866 445M975 420L960 445L870 445"/>
<!-- buildings -->
<path class="m" d="M0 468L210 468L207 632L442 638M0 505L172 505L172 590L0 590M0 608L170 610M442 530L445 680L527 682M445 530L527 530"/>
<path class="h" d="M532 396L527 690L520 985"/>
<path class="m" d="M532 450L690 450M532 500L692 503M692 450L692 503M692 465L948 470L948 505L995 510L995 600L945 605M945 605L1130 605L1143 605L1140 710M945 605L945 692L527 682M527 695L825 692M825 692L1140 712M1143 635Q1170 660 1140 695"/>
<rect class="l" x="1125" y="605" width="18" height="22"/>
<!-- road -->
<path class="h" d="M0 977L505 988L1245 1005"/>
<path class="ds" d="M0 1012L1245 1040"/>
<path class="m" d="M0 1040L1240 1070M470 1050L1240 1075"/>
<path class="l" d="M30 975Q50 998 80 996L230 998Q255 995 260 975M295 975Q300 1002 340 1003L505 1005L660 1010Q670 1000 665 978M705 975Q720 1012 760 1012L980 1020Q985 1000 975 985M1022 975Q1040 1018 1120 1020L1230 1022Q1245 1015 1250 985"/>
<path class="l" d="M50 1045Q70 1020 90 1046M115 1047Q130 1022 150 1048M310 1048Q325 1028 340 1050M370 1052Q400 1025 435 1054M470 1055Q480 1035 500 1036L950 1050"/>
<path class="l" d="M525 965H655M535 965V985M550 965V985M565 965V985M580 965V985M595 965V985M610 965V985M625 965V985M725 968H810M910 975V995M925 975V995M940 975V995M1150 985V1000M1165 985V1000M1180 985V1000M1195 985V1000M1210 985V1002"/>
<rect class="l" x="503" y="965" width="20" height="22"/>
<path class="l" d="M850 965V995M855 965V995"/>
<!-- lots -->
<path class="m" d="M482 1058L482 1195M708 1060L704 1195M870 1065L868 1195M945 1065L942 1195"/>
<path class="dd" d="M515 1060L515 1120L1240 1133"/>
<path class="m" d="M530 1112H548L530 1130H548M820 1122H840L820 1138H840M898 1122H920L900 1138H920"/>
<path class="dd" d="M1120 1385L1315 1385"/>
<path class="l" d="M1260 1385L1315 1385M1270 1345V1415"/>
<rect class="l" x="1322" y="1003" width="80" height="30" fill="#fff"/>
<g font-size="18">
<text x="37" y="383" font-size="20" textLength="141" lengthAdjust="spacingAndGlyphs">S 89°39'00" E</text>
<text x="645" y="391" font-size="20" textLength="73" lengthAdjust="spacingAndGlyphs">978.21'</text>
<text x="165" y="411" font-size="14" textLength="57" lengthAdjust="spacingAndGlyphs">622.36'</text>
<text x="752" y="420" font-size="16" textLength="53" lengthAdjust="spacingAndGlyphs">355.85'</text>
<text x="245" y="497" font-size="22" textLength="237" lengthAdjust="spacingAndGlyphs">24.364 ACRES TOTAL</text>
<text x="720" y="722" font-size="22" textLength="150" lengthAdjust="spacingAndGlyphs">6.711  ACRES</text>
<text x="757" y="625" font-size="16" textLength="95" lengthAdjust="spacingAndGlyphs">Food Town</text>
<text x="977" y="655" font-size="14" textLength="92" lengthAdjust="spacingAndGlyphs">Small Shops</text>
<text x="0" y="560" font-size="14" textLength="44" lengthAdjust="spacingAndGlyphs">Shops</text>
<text x="735" y="443" font-size="14" textLength="47" lengthAdjust="spacingAndGlyphs">Asphalt</text>
<text x="1020" y="549" font-size="13" textLength="40" lengthAdjust="spacingAndGlyphs">Gravel</text>
<text x="308" y="589" font-size="12" class="b" textLength="38" lengthAdjust="spacingAndGlyphs">Grass</text>
<text x="0" y="490" font-size="13" textLength="30" lengthAdjust="spacingAndGlyphs">phalt</text>
<text x="990" y="1028" font-size="26" textLength="152" lengthAdjust="spacingAndGlyphs">Plaza Drive</text>
<text x="1013" y="1047" font-size="15" textLength="140" lengthAdjust="spacingAndGlyphs">Ordinance 80—473</text>
<text x="1013" y="1061" font-size="15" textLength="140" lengthAdjust="spacingAndGlyphs">November 4, 1985</text>
<text x="57" y="994" font-size="15" textLength="118" lengthAdjust="spacingAndGlyphs">N 89°15'03" W</text>
<text x="222" y="974" font-size="15" textLength="60" lengthAdjust="spacingAndGlyphs">703.61'</text>
<text x="447" y="1002" font-size="15" textLength="55" lengthAdjust="spacingAndGlyphs">989.40'</text>
<text x="727" y="990" font-size="14" textLength="50" lengthAdjust="spacingAndGlyphs">285.79'</text>
<text x="1050" y="997" font-size="15" textLength="120" lengthAdjust="spacingAndGlyphs">N 89°39'00" W</text>
<text x="1080" y="983" font-size="15" textLength="58" lengthAdjust="spacingAndGlyphs">330.03'</text>
<text x="972" y="1130" font-size="14" textLength="118" lengthAdjust="spacingAndGlyphs">N 89°39'00" W</text>
<text x="1140" y="1130" font-size="14" textLength="55" lengthAdjust="spacingAndGlyphs">330.00'</text>
<text x="1248" y="1165" font-size="14" textLength="24" lengthAdjust="spacingAndGlyphs">30'</text>
<text x="1282" y="1165" font-size="14" textLength="24" lengthAdjust="spacingAndGlyphs">30'</text>
<text x="1277" y="190" font-size="14" textLength="20" lengthAdjust="spacingAndGlyphs">30'</text>
<text x="1312" y="190" font-size="14" textLength="24" lengthAdjust="spacingAndGlyphs">30'</text>
<text x="1000" y="156" font-size="16" textLength="48" lengthAdjust="spacingAndGlyphs">Date:</text>
<text x="1073" y="156" font-size="16" textLength="192" lengthAdjust="spacingAndGlyphs">September 1, 1998</text>
<text x="1095" y="107" font-size="13" textLength="100" lengthAdjust="spacingAndGlyphs">( IN FEET )</text>
<text x="1072" y="126" font-size="13" textLength="147" lengthAdjust="spacingAndGlyphs">1 inch = 100 ft.</text>
<text x="950" y="38" font-size="9" class="b" textLength="22" lengthAdjust="spacingAndGlyphs">100</text>
<text x="1083" y="38" font-size="9" class="b" textLength="8" lengthAdjust="spacingAndGlyphs">0</text>
<text x="1140" y="38" font-size="9" class="b" textLength="14" lengthAdjust="spacingAndGlyphs">50</text>
<text x="1200" y="38" font-size="9" class="b" textLength="20" lengthAdjust="spacingAndGlyphs">100</text>
<text x="1320" y="38" font-size="9" class="b" textLength="22" lengthAdjust="spacingAndGlyphs">200</text>
<text x="1328" y="1016" font-size="11" textLength="68" lengthAdjust="spacingAndGlyphs">POINT OF</text>
<text x="1326" y="1029" font-size="11" textLength="72" lengthAdjust="spacingAndGlyphs">BEGINNING</text>
</g>
<g font-size="13">
<text x="578" y="357" textLength="26" lengthAdjust="spacingAndGlyphs">Iron</text><text x="576" y="371" textLength="26" lengthAdjust="spacingAndGlyphs">Pipe</text><text x="570" y="385" textLength="44" lengthAdjust="spacingAndGlyphs">Found</text>
<text x="872" y="358" textLength="26" lengthAdjust="spacingAndGlyphs">Iron</text><text x="870" y="372" textLength="30" lengthAdjust="spacingAndGlyphs">Pipe</text><text x="864" y="387" textLength="42" lengthAdjust="spacingAndGlyphs">Found</text>
<text x="1368" y="648" textLength="26" lengthAdjust="spacingAndGlyphs">R.R.</text><text x="1355" y="662" textLength="36" lengthAdjust="spacingAndGlyphs">Spike</text><text x="1362" y="676" textLength="26" lengthAdjust="spacingAndGlyphs">Set</text>
<text x="1349" y="965" textLength="26" lengthAdjust="spacingAndGlyphs">R.R.</text><text x="1344" y="978" textLength="36" lengthAdjust="spacingAndGlyphs">Spike</text><text x="1350" y="992" textLength="26" lengthAdjust="spacingAndGlyphs">Set</text>
<text x="1110" y="1087" textLength="100" lengthAdjust="spacingAndGlyphs">Iron Pipe Fd.</text>
<text x="895" y="1155" textLength="28" lengthAdjust="spacingAndGlyphs">Iron</text><text x="893" y="1170" textLength="28" lengthAdjust="spacingAndGlyphs">Pipe</text><text x="885" y="1184" textLength="44" lengthAdjust="spacingAndGlyphs">Found</text>
<text x="1087" y="1303" textLength="116" lengthAdjust="spacingAndGlyphs">Iron Stake Fd.,</text>
<text x="1087" y="1317" textLength="80" lengthAdjust="spacingAndGlyphs">SE Corner,</text>
<text x="1087" y="1332" textLength="118" lengthAdjust="spacingAndGlyphs">NE1/4, NE1/4,</text>
<text x="1087" y="1346" textLength="82" lengthAdjust="spacingAndGlyphs">Section 36</text>
<text x="760" y="1378" textLength="310" lengthAdjust="spacingAndGlyphs">South Line, NE1/4, NE1/4, Section 36</text>
<text x="1152" y="1407" textLength="28" lengthAdjust="spacingAndGlyphs">Iron</text><text x="1150" y="1421" textLength="30" lengthAdjust="spacingAndGlyphs">Pipe</text><text x="1145" y="1435" textLength="44" lengthAdjust="spacingAndGlyphs">Found</text><text x="1142" y="1450" textLength="42" lengthAdjust="spacingAndGlyphs">@ 30'</text>
</g>
<path class="l" d="M760 1382H1070"/>
<path class="m" d="M240 503H485"/>
<g font-size="11" class="b">
<text x="283" y="296" textLength="95" lengthAdjust="spacingAndGlyphs">Norah L. Monk</text>
<text x="277" y="308" textLength="110" lengthAdjust="spacingAndGlyphs">Vol. 730, Pg. 962</text>
<text x="300" y="320" textLength="66" lengthAdjust="spacingAndGlyphs">6.773 Acres</text>
<text x="0" y="414" textLength="60" lengthAdjust="spacingAndGlyphs">er Easement</text>
<text x="0" y="426" textLength="35" lengthAdjust="spacingAndGlyphs">Pg. 1696</text>
<text x="305" y="422" textLength="40" lengthAdjust="spacingAndGlyphs">Relocated</text>
<text x="262" y="431" textLength="130" lengthAdjust="spacingAndGlyphs">30' Storm Sewer Easement</text>
<text x="280" y="441" textLength="95" lengthAdjust="spacingAndGlyphs">Vol. 841, Pg. 1696</text>
<text x="540" y="428" textLength="135" lengthAdjust="spacingAndGlyphs">30' Storm Sewer Easement</text>
<text x="560" y="439" textLength="90" lengthAdjust="spacingAndGlyphs">Vol. 708, Pg. 324</text>
<text x="760" y="345" textLength="50" lengthAdjust="spacingAndGlyphs">10' Storm</text>
<text x="762" y="354" textLength="45" lengthAdjust="spacingAndGlyphs">Easement</text>
<text x="743" y="363" textLength="90" lengthAdjust="spacingAndGlyphs">Vol. 708, Pg. 326</text>
<text x="875" y="435" textLength="40" lengthAdjust="spacingAndGlyphs">15' Storm</text>
<text x="878" y="443" textLength="45" lengthAdjust="spacingAndGlyphs">Easement</text>
<text x="865" y="453" textLength="80" lengthAdjust="spacingAndGlyphs">Vol. 560, Pg. 31</text>
<text x="575" y="540" textLength="78" lengthAdjust="spacingAndGlyphs">Easement to</text>
<text x="572" y="551" textLength="85" lengthAdjust="spacingAndGlyphs">Fostoria Plaza</text>
<text x="572" y="562" textLength="85" lengthAdjust="spacingAndGlyphs">to install and</text>
<text x="557" y="573" textLength="115" lengthAdjust="spacingAndGlyphs">maintain foundation</text>
<text x="583" y="584" textLength="65" lengthAdjust="spacingAndGlyphs">of party wall</text>
<text x="562" y="596" textLength="102" lengthAdjust="spacingAndGlyphs">Vol. 419, Pg. 72</text>
<text x="875" y="722" textLength="175" lengthAdjust="spacingAndGlyphs">Midstate Properties Company</text>
<text x="908" y="733" textLength="110" lengthAdjust="spacingAndGlyphs">Vol. 560, Pg. 905</text>
<text x="905" y="745" textLength="118" lengthAdjust="spacingAndGlyphs">8.352 Acres (Deed)</text>
<text x="5" y="621" textLength="175" lengthAdjust="spacingAndGlyphs">Midstate Properties Company</text>
<text x="40" y="633" textLength="108" lengthAdjust="spacingAndGlyphs">Vol. 853, Pg. 329</text>
<text x="1088" y="936" textLength="92" lengthAdjust="spacingAndGlyphs">Ohio Power Co.</text>
<text x="1083" y="948" textLength="103" lengthAdjust="spacingAndGlyphs">Vol. 42, Pg. 149</text>
<text x="1077" y="959" textLength="115" lengthAdjust="spacingAndGlyphs">(Blanket Easement)</text>
<text x="1037" y="1098" textLength="105" lengthAdjust="spacingAndGlyphs">Edward Stalsheck, Sr.</text>
<text x="1035" y="1111" textLength="112" lengthAdjust="spacingAndGlyphs">Vol. 598, Pg. 1066</text>
<text x="535" y="1156" textLength="112" lengthAdjust="spacingAndGlyphs">Dick &amp; Jane Corp.</text>
<text x="535" y="1170" textLength="118" lengthAdjust="spacingAndGlyphs">Vol. 662, Pg. 1096</text>
<text x="728" y="1160" textLength="120" lengthAdjust="spacingAndGlyphs">Fostoria Restaurants</text>
<text x="735" y="1173" textLength="108" lengthAdjust="spacingAndGlyphs">Vol. 680, Pg. 511</text>
<text x="965" y="1164" textLength="100" lengthAdjust="spacingAndGlyphs">Richard H. Busch</text>
<text x="962" y="1176" textLength="110" lengthAdjust="spacingAndGlyphs">Vol. 615, Pg. 566</text>
<text x="1162" y="705" textLength="60" lengthAdjust="spacingAndGlyphs">Ohio Fuel Gas</text>
<text x="1175" y="717" textLength="45" lengthAdjust="spacingAndGlyphs">Vol. 426</text>
<text x="1175" y="728" textLength="45" lengthAdjust="spacingAndGlyphs">Pg. 162</text>
<text x="1170" y="772" textLength="35" lengthAdjust="spacingAndGlyphs">Fostoria</text>
<text x="1175" y="781" textLength="28" lengthAdjust="spacingAndGlyphs">Plaza</text>
<text x="1178" y="790" textLength="22" lengthAdjust="spacingAndGlyphs">Sign</text>
<text x="365" y="680" textLength="42" lengthAdjust="spacingAndGlyphs">M.H.</text>
<text x="570" y="510" textLength="55" lengthAdjust="spacingAndGlyphs">130'</text>
<text x="822" y="480" textLength="36" lengthAdjust="spacingAndGlyphs">205.2'</text>
<text x="735" y="684" textLength="36" lengthAdjust="spacingAndGlyphs">335.4'</text>
<text x="638" y="698" textLength="72" lengthAdjust="spacingAndGlyphs">12' Sidewalk</text>
<text x="1005" y="706" textLength="75" lengthAdjust="spacingAndGlyphs">12' Sidewalk</text>
<text x="1030" y="692" textLength="38" lengthAdjust="spacingAndGlyphs">153.6'</text>
<text x="1048" y="616" textLength="33" lengthAdjust="spacingAndGlyphs">104.7</text>
<text x="960" y="516" textLength="28" lengthAdjust="spacingAndGlyphs">40.2'</text>
<text x="960" y="616" textLength="18" lengthAdjust="spacingAndGlyphs">40'</text>
<text x="480" y="540" textLength="18" lengthAdjust="spacingAndGlyphs">46'</text>
<text x="480" y="680" textLength="18" lengthAdjust="spacingAndGlyphs">46'</text>
<text x="225" y="830" textLength="48" lengthAdjust="spacingAndGlyphs">13 13</text>
<text x="302" y="830" textLength="42" lengthAdjust="spacingAndGlyphs">10 10</text>
<text x="380" y="832" textLength="42" lengthAdjust="spacingAndGlyphs">12 12</text>
<text x="458" y="842" textLength="42" lengthAdjust="spacingAndGlyphs">12 12</text>
<text x="65" y="895" textLength="48" lengthAdjust="spacingAndGlyphs">24 24</text>
<text x="140" y="893" textLength="48" lengthAdjust="spacingAndGlyphs">24 24</text>
<text x="-5" y="945" textLength="48" lengthAdjust="spacingAndGlyphs">27 27</text>
<text x="527" y="907" textLength="45" lengthAdjust="spacingAndGlyphs">16 16</text>
<text x="618" y="910" textLength="45" lengthAdjust="spacingAndGlyphs">16 16</text>
<text x="705" y="913" textLength="48" lengthAdjust="spacingAndGlyphs">16 16</text>
<text x="797" y="915" textLength="48" lengthAdjust="spacingAndGlyphs">16 16</text>
<text x="885" y="915" textLength="48" lengthAdjust="spacingAndGlyphs">15 15</text>
<text x="975" y="918" textLength="45" lengthAdjust="spacingAndGlyphs">15 15</text>
<text x="1062" y="918" textLength="48" lengthAdjust="spacingAndGlyphs">16 16</text>
<text x="1145" y="921" textLength="40" lengthAdjust="spacingAndGlyphs">10 9</text>
<text x="785" y="985" textLength="30" lengthAdjust="spacingAndGlyphs">Bus</text>
<text x="880" y="985" textLength="30" lengthAdjust="spacingAndGlyphs">Bus</text>
<text x="670" y="1005" textLength="30" lengthAdjust="spacingAndGlyphs">Drive</text>
<text x="265" y="998" textLength="30" lengthAdjust="spacingAndGlyphs">Drive</text>
<text x="987" y="992" textLength="30" lengthAdjust="spacingAndGlyphs">Drive</text>
<text x="0" y="992" textLength="24" lengthAdjust="spacingAndGlyphs">Drive</text>
<text x="285" y="1044" textLength="25" lengthAdjust="spacingAndGlyphs">Drive</text>
<text x="345" y="1046" textLength="22" lengthAdjust="spacingAndGlyphs">Drive</text>
<text x="445" y="1048" textLength="22" lengthAdjust="spacingAndGlyphs">Drive</text>
<text x="120" y="1040" textLength="22" lengthAdjust="spacingAndGlyphs">Drive</text>
<text x="35" y="1038" textLength="22" lengthAdjust="spacingAndGlyphs">Drive</text>
<text x="962" y="1060" textLength="22" lengthAdjust="spacingAndGlyphs">Drive</text>
<text x="838" y="955" textLength="22" lengthAdjust="spacingAndGlyphs">I.P.</text><text x="838" y="968" textLength="22" lengthAdjust="spacingAndGlyphs">Set</text>
</g>
<path class="l" d="M1143 735L1215 770M1175 800L1238 770"/>
<rect x="690" y="765" width="12" height="11" fill="#000"/><rect x="912" y="772" width="14" height="12" fill="#000"/><rect x="555" y="848" width="12" height="11" fill="#000"/><rect x="688" y="898" width="12" height="11" fill="#000"/><rect x="10" y="765" width="12" height="11" fill="#000"/>
<circle class="l" cx="400" cy="676" r="6"/>
<path class="noise" d="M40 888L310 885M420 900L480 895"/>
</g>

<!-- railroad, crop coords 3x -->
<g transform="translate(2400 520) scale(.3333)">
<path class="m" d="M275 15L900 720"/>
<path class="ld" d="M220 60L315 165M360 215L435 300M455 320L560 440M605 495L690 590M735 645L810 730M850 775L935 875M975 925L1040 995M1065 1030L1190 1170"/>
<path class="h" d="M360 330L955 1010"/>
<path class="m" d="M955 1010L1125 1200M1040 890L1248 1130"/>
<path class="dd" d="M345 335L400 410M430 455L590 635M610 660L780 840M800 870L875 950"/>
<path class="dd" d="M455 470L580 625M620 670L765 830M790 880L870 960"/>
<path class="l" d="M255 265L370 330L460 405M810 920Q840 960 890 990M1035 1120V1200M1090 870L1045 895L965 1015"/>
<path class="m" d="M905 690L905 725L920 715"/>
</g>
<g>
<text transform="translate(2546 613) rotate(48)" font-size="18" textLength="213" lengthAdjust="spacingAndGlyphs">(Abandoned) Conrail Railroad</text>
<text transform="translate(2460 555) rotate(46)" font-size="14" textLength="72" lengthAdjust="spacingAndGlyphs">PERRY TWP.</text>
<text transform="translate(2448 563) rotate(46)" font-size="14" textLength="56" lengthAdjust="spacingAndGlyphs">FOSTORIA</text>
<text transform="translate(2561 675) rotate(46)" font-size="15" textLength="90" lengthAdjust="spacingAndGlyphs">S 41°53'00" E</text>
<text transform="translate(2658 780) rotate(46)" font-size="15" textLength="46" lengthAdjust="spacingAndGlyphs">383.72'</text>
<text transform="translate(2584 750) rotate(-50)" font-size="10" textLength="12" lengthAdjust="spacingAndGlyphs">15'</text>
<text transform="translate(2604 770) rotate(-50)" font-size="10" textLength="12" lengthAdjust="spacingAndGlyphs">10'</text>
<text transform="translate(2743 799) rotate(-90)" font-size="18" textLength="316" lengthAdjust="spacingAndGlyphs">State Route No. 23 (County Line Street)</text>
<text transform="translate(2720 725) rotate(-90)" font-size="12" textLength="175" lengthAdjust="spacingAndGlyphs">East Line, NE1/4, NE1/4, Sec. 36</text>
</g>

<!-- rotated labels, real coords -->
<g font-size="15">
<text transform="translate(995 782) rotate(55.2)" font-size="18" textLength="298" lengthAdjust="spacingAndGlyphs">State Route No. 199 (Perrysburg Road)</text>
<text transform="translate(1034 783) rotate(55)" font-size="13" textLength="84" lengthAdjust="spacingAndGlyphs">N 34°20'37" W</text>
<text transform="translate(1158 973) rotate(55)" font-size="11" class="b" textLength="36" lengthAdjust="spacingAndGlyphs">595.97'</text>
<text transform="translate(1214 1030) rotate(60)" font-size="9" class="b" textLength="58" lengthAdjust="spacingAndGlyphs">E Road Cline</text>
<text transform="translate(868 439) rotate(55)" font-size="13" class="b" textLength="70" lengthAdjust="spacingAndGlyphs">S 34°20'37" E</text>
<text transform="translate(883 567) rotate(52)" font-size="11" class="b" textLength="48" lengthAdjust="spacingAndGlyphs">FOSTORIA</text>
<text transform="translate(870 577) rotate(52)" font-size="11" class="b" textLength="50" lengthAdjust="spacingAndGlyphs">PERRY TWP.</text>
<text transform="translate(912 614) rotate(55)" font-size="12" textLength="38" lengthAdjust="spacingAndGlyphs">553.20'</text>
<text transform="translate(937 660) rotate(-50)" font-size="11" textLength="18" lengthAdjust="spacingAndGlyphs">30'</text>
<text transform="translate(924 676) rotate(-50)" font-size="11" textLength="18" lengthAdjust="spacingAndGlyphs">30'</text>
<text transform="translate(1280 1125) rotate(60)" font-size="11" textLength="20" lengthAdjust="spacingAndGlyphs">30'</text>
<text transform="translate(1287 1140) rotate(60)" font-size="11" class="b" textLength="12" lengthAdjust="spacingAndGlyphs">CL</text>
<text transform="translate(1290 1137) rotate(60)" font-size="11" textLength="20" lengthAdjust="spacingAndGlyphs">30'</text>
<text transform="translate(1298 1222) rotate(-40)" font-size="11" textLength="18" lengthAdjust="spacingAndGlyphs">30'</text>
<text transform="translate(1318 1215) rotate(-60)" font-size="11" textLength="18" lengthAdjust="spacingAndGlyphs">30'</text>
<text transform="translate(1432 677) rotate(-90)" font-size="15" textLength="72" lengthAdjust="spacingAndGlyphs">N 00°23'01"</text>
<text transform="translate(1452 660) rotate(-90)" font-size="15" textLength="38" lengthAdjust="spacingAndGlyphs">105.56'</text>
<text transform="translate(1527 970) rotate(-90)" font-size="13" textLength="72" lengthAdjust="spacingAndGlyphs">S 00°46'00" W</text>
<text transform="translate(1531 855) rotate(-90)" font-size="12" textLength="36" lengthAdjust="spacingAndGlyphs">332.77'</text>
<text transform="translate(1544 970) rotate(-90)" font-size="12" textLength="80" lengthAdjust="spacingAndGlyphs">Property Line</text>
<text transform="translate(1557 918) rotate(-90)" font-size="11" class="b" textLength="31" lengthAdjust="spacingAndGlyphs">Asphalt</text>
<text transform="translate(1576 901) rotate(-90)" font-size="9" class="b" textLength="20" lengthAdjust="spacingAndGlyphs">212.8'</text>
<text transform="translate(1712 912) rotate(-90)" font-size="9" class="b" textLength="20" lengthAdjust="spacingAndGlyphs">244.0'</text>
<text transform="translate(1725 912) rotate(-90)" font-size="9" class="b" textLength="48" lengthAdjust="spacingAndGlyphs">12' Sidewalk</text>
<text transform="translate(1746 700) rotate(-90)" font-size="13" textLength="62" lengthAdjust="spacingAndGlyphs">S 00°46'00"</text>
<text transform="translate(1746 663) rotate(-90)" font-size="13" textLength="32" lengthAdjust="spacingAndGlyphs">213.69'</text>
<text transform="translate(1759 723) rotate(-90)" font-size="13" textLength="37" lengthAdjust="spacingAndGlyphs">190.10'</text>
<text transform="translate(1759 760) rotate(-90)" font-size="10" class="b" textLength="28" lengthAdjust="spacingAndGlyphs">Asphalt</text>
<text transform="translate(1775 735) rotate(-90)" font-size="9" class="b" textLength="17" lengthAdjust="spacingAndGlyphs">89.3'</text>
<text transform="translate(2733 1022) rotate(-90)" font-size="14" textLength="87" lengthAdjust="spacingAndGlyphs">S 00°46'00" W</text>
<text transform="translate(2733 929) rotate(-90)" font-size="14" textLength="34" lengthAdjust="spacingAndGlyphs">251.00'</text>
<text transform="translate(2715 1093) rotate(-90)" font-size="15" textLength="36" lengthAdjust="spacingAndGlyphs">60.00'</text>
<text transform="translate(2708 1143) rotate(-90)" font-size="15" textLength="38" lengthAdjust="spacingAndGlyphs">57.70'</text>
<text transform="translate(2730 1150) rotate(-90)" font-size="15" textLength="42" lengthAdjust="spacingAndGlyphs">417.70'</text>
<text transform="translate(2726 1265) rotate(-90)" font-size="15" textLength="70" lengthAdjust="spacingAndGlyphs">N 00°46'00" E</text>
<text transform="translate(2231 946) rotate(-90)" font-size="13" textLength="73" lengthAdjust="spacingAndGlyphs">S 00°46'00" W</text>
<text transform="translate(2222 999) rotate(-90)" font-size="12" textLength="38" lengthAdjust="spacingAndGlyphs">Property</text>
<text transform="translate(2234 985) rotate(-90)" font-size="11" textLength="18" lengthAdjust="spacingAndGlyphs">Line</text>
<text transform="translate(2234 799) rotate(-90)" font-size="13" textLength="38" lengthAdjust="spacingAndGlyphs">533.13'</text>
<text transform="translate(2196 780) rotate(-90)" font-size="10" class="b" textLength="20" lengthAdjust="spacingAndGlyphs">134.2'</text>
<text transform="translate(2684 1020) rotate(-90)" font-size="12" textLength="40" lengthAdjust="spacingAndGlyphs">Power Line</text>
</g>

<!-- Z4: certificate + utility -->
<g transform="translate(180 1480) scale(.7015 .3333)">
<rect class="h" x="25" y="90" width="617" height="958" rx="65" ry="100" fill="#fff"/>
<rect class="h" x="752" y="92" width="726" height="843" rx="65" ry="100" fill="#fff"/>
<path class="m" d="M52 208L622 208M950 215L1318 215M105 760L435 762M125 918L435 920"/>
<g font-size="38" class="i">
<text x="65" y="310" textLength="527" lengthAdjust="spacingAndGlyphs">This is to certify that this map or plot and the survey</text>
<text x="65" y="350" textLength="530" lengthAdjust="spacingAndGlyphs">on which it is based were made (I) in accordance with</text>
<text x="65" y="390" textLength="515" lengthAdjust="spacingAndGlyphs">minimum standard detail requirements for ALTA/ACSM</text>
<text x="65" y="430" textLength="545" lengthAdjust="spacingAndGlyphs">land title surveys jointly established and adopted by ALTA</text>
<text x="65" y="470" textLength="540" lengthAdjust="spacingAndGlyphs">and ACSM in 1992, and includes 1-4, 6-11 &amp; 13 (less</text>
<text x="63" y="510" textLength="555" lengthAdjust="spacingAndGlyphs">underground utilities) of Table A thereof, and (II) pursuant</text>
<text x="63" y="555" textLength="557" lengthAdjust="spacingAndGlyphs">to the accuracy standards (as adopted by ALTA and ACSM</text>
<text x="63" y="595" textLength="509" lengthAdjust="spacingAndGlyphs">and in effect on the date of this certification) of an</text>
<text x="63" y="632" textLength="122" lengthAdjust="spacingAndGlyphs">urban survey.</text>
<text x="60" y="750" textLength="45" lengthAdjust="spacingAndGlyphs">Date:</text>
<text x="60" y="908" textLength="65" lengthAdjust="spacingAndGlyphs">Signed:</text>
<text x="435" y="920" textLength="53" lengthAdjust="spacingAndGlyphs">(Seal)</text>
<text x="132" y="952" textLength="146" lengthAdjust="spacingAndGlyphs">Registration No.</text>
</g>
<g font-size="40">
<text x="840" y="340" textLength="243" lengthAdjust="spacingAndGlyphs">Columbia Gas of Ohio, Inc.</text>
<text x="840" y="380" textLength="172" lengthAdjust="spacingAndGlyphs">1800 Broad Avenue</text>
<text x="840" y="420" textLength="188" lengthAdjust="spacingAndGlyphs">Findlay, Ohio  45840</text>
<text x="838" y="458" textLength="138" lengthAdjust="spacingAndGlyphs">(419)422-3565</text>
<text x="838" y="538" textLength="212" lengthAdjust="spacingAndGlyphs">American Electric Power</text>
<text x="838" y="578" textLength="190" lengthAdjust="spacingAndGlyphs">71 S. Washington St.</text>
<text x="838" y="616" textLength="172" lengthAdjust="spacingAndGlyphs">Tiffin, Ohio  44883</text>
<text x="838" y="654" textLength="136" lengthAdjust="spacingAndGlyphs">(800)672-2231</text>
<text x="838" y="730" textLength="82" lengthAdjust="spacingAndGlyphs">Ameritech</text>
<text x="838" y="770" textLength="104" lengthAdjust="spacingAndGlyphs">130 N. Erie</text>
<text x="838" y="808" textLength="184" lengthAdjust="spacingAndGlyphs">Toledo, Ohio  43624</text>
<text x="838" y="846" textLength="136" lengthAdjust="spacingAndGlyphs">(419)245-7589</text>
<text x="1140" y="342" textLength="92" lengthAdjust="spacingAndGlyphs">Media One</text>
<text x="1140" y="382" textLength="172" lengthAdjust="spacingAndGlyphs">119 North Main St.</text>
<text x="1140" y="420" textLength="198" lengthAdjust="spacingAndGlyphs">Fostoria, Ohio  44830</text>
<text x="1140" y="460" textLength="138" lengthAdjust="spacingAndGlyphs">(419)435-8565</text>
<text x="1140" y="540" textLength="296" lengthAdjust="spacingAndGlyphs">City of Fostoria Engineer's Office</text>
<text x="1140" y="580" textLength="172" lengthAdjust="spacingAndGlyphs">213 South Main St.</text>
<text x="1140" y="618" textLength="198" lengthAdjust="spacingAndGlyphs">Fostoria, Ohio  44830</text>
<text x="1140" y="656" textLength="138" lengthAdjust="spacingAndGlyphs">(419)435-9775</text>
<text x="1140" y="733" textLength="278" lengthAdjust="spacingAndGlyphs">Ohio Utilities Protection Service</text>
<text x="1140" y="770" textLength="136" lengthAdjust="spacingAndGlyphs">(800)362-2764</text>
</g>
</g>

<!-- Z5: legal -->
<g transform="translate(1390 1160) scale(.4337 .44)">
<rect class="h" x="28" y="25" width="1472" height="1515" rx="105" ry="105" fill="none"/>
<path class="m" d="M450 90L1028 90"/>
<g font-size="21" class="b">
<text x="1245" y="163" textLength="132" lengthAdjust="spacingAndGlyphs">24.364 Acres</text>
<text x="225" y="203" textLength="1163" lengthAdjust="spacingAndGlyphs">Situated in the City of Fostoria, County of Wood, State of Ohio and being a part of the NE1/4 of the NE1/4</text>
<text x="160" y="226" textLength="925" lengthAdjust="spacingAndGlyphs">of Section 36, T 3 N, R 12 E, a tract of land bounded and described as follows:</text>
<text x="225" y="272" textLength="1163" lengthAdjust="spacingAndGlyphs">Beginning at a railroad spike set on the east line of the NE1/4 of the NE1/4 of Section 36 and described as</text>
<text x="160" y="294" textLength="1228" lengthAdjust="spacingAndGlyphs">lying, N00°46'00"E, a distance of 417.70 feet from an iron stake found marking the southeast corner of the NE1/4</text>
<text x="160" y="316" textLength="1228" lengthAdjust="spacingAndGlyphs">of the NE1/4 of said Section 36; thence along the north right—of—way line of Plaza Drive, N89°39'00"W, a distance</text>
<text x="160" y="339" textLength="380" lengthAdjust="spacingAndGlyphs">of 330.03 feet to an iron pin set;</text>
<text x="158" y="385" textLength="1230" lengthAdjust="spacingAndGlyphs">thence continuing along said north right—of—way line of Plaza Drive, N89°15'03"W, a distance of 989.40 feet to an</text>
<text x="158" y="406" textLength="133" lengthAdjust="spacingAndGlyphs">iron pin set;</text>
<text x="158" y="451" textLength="905" lengthAdjust="spacingAndGlyphs">thence at right angles, S00°44'57"W, a distance of 5.00 feet to an iron pin set;</text>
<text x="156" y="497" textLength="936" lengthAdjust="spacingAndGlyphs">thence at right angles, N89°15'03"W, a distance of 111.00 feet to an iron pin set;</text>
<text x="156" y="542" textLength="905" lengthAdjust="spacingAndGlyphs">thence at right angles, N00°44'57"E, a distance of 5.00 feet to an iron pin set;</text>
<text x="156" y="587" textLength="1230" lengthAdjust="spacingAndGlyphs">thence at right angles and continuing along said north right—of—way line, N89°15'03"W, a distance of 133.98 feet</text>
<text x="156" y="608" textLength="670" lengthAdjust="spacingAndGlyphs">to an iron pin set marking the P.C. of a curve to the left;</text>
<text x="156" y="653" textLength="1230" lengthAdjust="spacingAndGlyphs">thence along said curve to the left having a central angle of 35°05'34", a radius of 299.47 feet and a length of curve</text>
<text x="156" y="675" textLength="1230" lengthAdjust="spacingAndGlyphs">of 183.42 feet, the chord of said curve bearing, S73°12'10"W, a distance of 180.57 feet to an iron pin set;</text>
<text x="156" y="719" textLength="1230" lengthAdjust="spacingAndGlyphs">thence S55°38'33"W, a distance of 135.39 feet to a railroad spike set on the centerline of State Route Number 199</text>
<text x="156" y="741" textLength="200" lengthAdjust="spacingAndGlyphs">(Perrysburg Road);</text>
<text x="155" y="787" textLength="1078" lengthAdjust="spacingAndGlyphs">thence along said centerline, N34°20'37"W, a distance of 595.97 feet to a railroad spike found;</text>
<text x="154" y="832" textLength="1214" lengthAdjust="spacingAndGlyphs">thence along the south line of a 5.459 acre tract of land and a 2.303 acre tract of land, as described in Deed Volume</text>
<text x="154" y="854" textLength="1232" lengthAdjust="spacingAndGlyphs">848, Page 25 of the Wood County Deed Records, S89°33'51"E, a distance of 612.63 feet to an iron pipe found;</text>
<text x="154" y="898" textLength="1232" lengthAdjust="spacingAndGlyphs">thence along the east line of said 2.303 acre tract, N00°23'01"E, a distance of 105.56 feet to an iron pipe found;</text>
<text x="154" y="943" textLength="1230" lengthAdjust="spacingAndGlyphs">thence along the south line of a 3.13 acre tract of land, as described in Deed Volume 706, Page 74 of the Wood</text>
<text x="154" y="965" textLength="916" lengthAdjust="spacingAndGlyphs">County Deed Records, S89°17'21"E, a distance of 397.52 feet to an iron pin set;</text>
<text x="153" y="1010" textLength="1230" lengthAdjust="spacingAndGlyphs">thence along the west line of a 6.773 acre tract of land, as described in Deed Volume 730, Page 962 of the Wood</text>
<text x="153" y="1032" textLength="908" lengthAdjust="spacingAndGlyphs">County Deed Records, S00°46'00"W, a distance of 17.59 feet to an iron pin set;</text>
<text x="152" y="1076" textLength="1232" lengthAdjust="spacingAndGlyphs">thence along the south line of said 6.773 acre tract, S89°39'00"E, a distance of 978.21 feet to an iron pin found on</text>
<text x="152" y="1099" textLength="790" lengthAdjust="spacingAndGlyphs">the southwesterly right—of—way line of the Abandoned Conrail Railroad;</text>
<text x="152" y="1144" textLength="1230" lengthAdjust="spacingAndGlyphs">thence along said right—of—way line, S41°53'00"E, a distance of 383.72 feet to a railroad spike set marking the</text>
<text x="150" y="1167" textLength="1232" lengthAdjust="spacingAndGlyphs">intersection of said right—of—way line with the centerline of State Route Number 23 (County Line Street);</text>
<text x="150" y="1213" textLength="1232" lengthAdjust="spacingAndGlyphs">thence along said centerline, also being the east line of the NE1/4 of the NE1/4 of said Section 36, S00°46'00"W,</text>
<text x="150" y="1235" textLength="1232" lengthAdjust="spacingAndGlyphs">a distance of 251.00 feet to the point of beginning and containing 24.364 acres of land, more or less, subject however</text>
<text x="150" y="1259" textLength="590" lengthAdjust="spacingAndGlyphs">to all legal highways and prior easements of record.</text>
<text x="150" y="1303" textLength="326" lengthAdjust="spacingAndGlyphs">Wood County Deed Reference:</text>
<text x="518" y="1303" textLength="330" lengthAdjust="spacingAndGlyphs">Deed Volume 560, Page 905,</text>
<text x="518" y="1326" textLength="330" lengthAdjust="spacingAndGlyphs">Deed Volume 649, Page 155,</text>
<text x="518" y="1348" textLength="325" lengthAdjust="spacingAndGlyphs">Deed Volume 653, Page 329.</text>
<text x="150" y="1392" textLength="56" lengthAdjust="spacingAndGlyphs">NOTE:</text>
<text x="268" y="1390" textLength="1098" lengthAdjust="spacingAndGlyphs">The bearings in this legal description are based upon an assumed meridian and are used only for the</text>
<text x="288" y="1414" textLength="518" lengthAdjust="spacingAndGlyphs">purpose of describing angular measurements.</text>
<text x="150" y="1435" textLength="682" lengthAdjust="spacingAndGlyphs">I.P. set = 1/2" x 30" Rebar with Peterman Associates' Cap.</text>
</g>
</g>

<!-- Z6: title block -->
<g transform="translate(2180 1620) scale(.4209 .317)">
<path class="m" d="M45 60L1510 85L1510 715L395 700L0 688M45 60L45 688"/>
<path class="h" d="M45 232L400 245L1510 250"/>
<path class="m" d="M400 245L395 700M675 250L675 475M898 250L895 475M1340 250L1338 480M1425 250L1425 480M1365 480L1365 712M400 295L675 297M400 355L675 358M400 415L675 418M898 305L1510 308M898 363L1510 367M898 420L1510 425M400 475L1510 482M1365 570L1510 572"/>
<text x="320" y="155" font-size="86" class="i" textLength="938" lengthAdjust="spacingAndGlyphs">PETERMAN  ASSOCIATES,  INC.</text>
<text x="533" y="193" font-size="30" class="i" textLength="527" lengthAdjust="spacingAndGlyphs">ENGINEERS — PLANNERS — SURVEYORS</text>
<g font-size="34" class="i">
<text x="78" y="220" class="b" textLength="292" lengthAdjust="spacingAndGlyphs">438 Carnahan Avenue</text>
<text x="672" y="234" textLength="221" lengthAdjust="spacingAndGlyphs">(419) 422-6672</text>
<text x="1212" y="234" textLength="286" lengthAdjust="spacingAndGlyphs">Findlay, Ohio   45840</text>
<text x="65" y="260" class="b" textLength="55" lengthAdjust="spacingAndGlyphs">Seal</text>
<text x="415" y="272" textLength="65" lengthAdjust="spacingAndGlyphs">Scale</text>
<text x="525" y="290" font-size="40" textLength="115" lengthAdjust="spacingAndGlyphs">1"=100'</text>
<text x="412" y="328" class="b" textLength="58" lengthAdjust="spacingAndGlyphs">Date</text>
<text x="525" y="348" font-size="40" textLength="115" lengthAdjust="spacingAndGlyphs">9-1-98</text>
<text x="412" y="390" textLength="123" lengthAdjust="spacingAndGlyphs">Drawn By</text>
<text x="575" y="402" textLength="45" lengthAdjust="spacingAndGlyphs">TLP</text>
<text x="410" y="447" textLength="152" lengthAdjust="spacingAndGlyphs">Approved By</text>
<text x="915" y="278" textLength="115" lengthAdjust="spacingAndGlyphs">Revisions</text>
<text x="1368" y="287" textLength="34" lengthAdjust="spacingAndGlyphs">By</text>
<text x="1437" y="287" textLength="56" lengthAdjust="spacingAndGlyphs">Date</text>
<text x="410" y="503" textLength="60" lengthAdjust="spacingAndGlyphs">TITLE</text>
<text x="1390" y="512" textLength="100" lengthAdjust="spacingAndGlyphs">Job No.</text>
<text x="1380" y="553" font-size="40" textLength="128" lengthAdjust="spacingAndGlyphs">98-1058</text>
<text x="1385" y="607" textLength="110" lengthAdjust="spacingAndGlyphs">DWG No.</text>
<text x="1372" y="672" font-size="50" textLength="120" lengthAdjust="spacingAndGlyphs">49-60</text>
</g>
<text x="510" y="530" font-size="36" textLength="340" lengthAdjust="spacingAndGlyphs">ALTA/ACSM Survey For:</text>
<text x="692" y="592" font-size="56" textLength="268" lengthAdjust="spacingAndGlyphs">STEVE NIKSA</text>
<text x="450" y="640" font-size="36" textLength="833" lengthAdjust="spacingAndGlyphs">Being part of the NE1/4 of Section 36, T.3N., R.12E.,</text>
<text x="447" y="682" font-size="36" textLength="738" lengthAdjust="spacingAndGlyphs">City of Fostoria, County of Wood, State of Ohio.</text>
<path class="m" d="M695 305L720 296L880 296L880 318L720 318L695 305M750 296Q750 272 782 272Q815 272 815 296M725 325L840 325M760 325L730 385M805 325L835 385M770 325L745 385M795 325L815 385M735 385L830 385"/>
<path d="M728 395Q780 425 835 395Z M752 408H772V440H752Z M788 408H808V440H788Z" fill="#000"/>
</g>

<!-- section titles (real coords, letterspaced; drawn after boxes so they stay visible) -->
<text x="436" y="575" font-size="13" class="s" textLength="159" lengthAdjust="spacing">VICINITY   MAP</text>
<text x="333" y="646" font-size="11" class="s" textLength="313" lengthAdjust="spacing">NOTES FOR THE SURVEYED TRACT</text>
<text x="230" y="1543" font-size="14" class="s" textLength="159" lengthAdjust="spacing">SURVEYOR'S</text>
<text x="445" y="1543" font-size="14" class="s" textLength="164" lengthAdjust="spacing">CERTIFICATE</text>
<text x="850" y="1546" font-size="14" class="s" textLength="105" lengthAdjust="spacing">UTILITY</text>
<text x="985" y="1546" font-size="14" class="s" textLength="114" lengthAdjust="spacing">COMPANY</text>
<text x="1595" y="1192" font-size="13" class="s" textLength="63" lengthAdjust="spacing">LEGAL</text>
<text x="1685" y="1192" font-size="13" class="s" textLength="143" lengthAdjust="spacing">DESCRIPTION</text>

<!-- speckle -->
<path class="dots" d="M1300 20h1M1420 70h1M1180 100h1M1090 180h1M1600 130h1M1750 160h1M1980 90h1M2200 210h1M2400 150h1M2780 300h1M2790 620h1M2880 990h1M2950 1100h1M2980 1490h1M2920 1600h1M2150 1290h1M2190 1370h1M2180 1470h1M1100 1520h1M1210 1460h1M1290 1580h1M1330 1700h1M640 1580h1M690 1880h1M870 1860h1M1990 1900h1M2060 1890h1M1700 1900h1M20 1180h1M60 1240h1M1330 300h1M500 40h1M1500 300h1M2100 260h1M2300 60h1M950 1580h1M2870 1260h1M2950 760h1M120 1800h1M2350 30h1M1630 30h1"/>
<path class="noise" d="M70 968L180 965"/>
</svg>
</body></html>
